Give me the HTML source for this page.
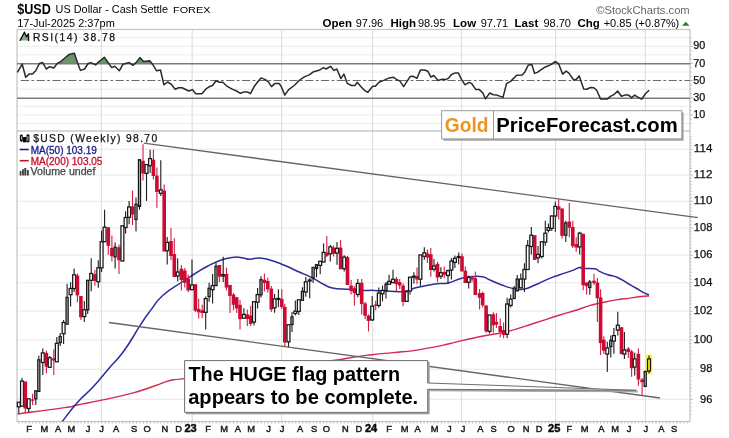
<!DOCTYPE html><html><head><meta charset="utf-8"><title>$USD</title>
<style>
html,body{margin:0;padding:0;background:#fff;}
body{width:729px;height:438px;overflow:hidden;position:relative;font-family:"Liberation Sans",sans-serif;}
svg{position:absolute;left:0;top:0;filter:blur(0.42px);}
text{font-family:"Liberation Sans",sans-serif;}
.t{position:absolute;white-space:nowrap;line-height:1;color:#000;}
</style></head><body>
<svg width="729" height="438" viewBox="0 0 729 438">
<rect x="0" y="0" width="729" height="438" fill="#fff"/>
<g stroke="#e7e7e7" stroke-width="1" fill="none">
<line x1="17.0" y1="123.5" x2="690.0" y2="123.5" stroke="#ececec"/>
<line x1="17.0" y1="114.9" x2="690.0" y2="114.9" stroke="#ececec"/>
<line x1="17.0" y1="106.3" x2="690.0" y2="106.3" stroke="#ececec"/>
<line x1="17.0" y1="89.2" x2="690.0" y2="89.2" stroke="#ececec"/>
<line x1="17.0" y1="72.0" x2="690.0" y2="72.0" stroke="#ececec"/>
<line x1="17.0" y1="54.9" x2="690.0" y2="54.9" stroke="#ececec"/>
<line x1="17.0" y1="46.3" x2="690.0" y2="46.3" stroke="#ececec"/>
<line x1="17.0" y1="37.7" x2="690.0" y2="37.7" stroke="#ececec"/>
<line x1="17.0" y1="399.3" x2="690.0" y2="399.3"/>
<line x1="17.0" y1="369.3" x2="690.0" y2="369.3"/>
<line x1="17.0" y1="339.9" x2="690.0" y2="339.9"/>
<line x1="17.0" y1="311.1" x2="690.0" y2="311.1"/>
<line x1="17.0" y1="282.8" x2="690.0" y2="282.8"/>
<line x1="17.0" y1="255.1" x2="690.0" y2="255.1"/>
<line x1="17.0" y1="227.9" x2="690.0" y2="227.9"/>
<line x1="17.0" y1="201.2" x2="690.0" y2="201.2"/>
<line x1="17.0" y1="175.0" x2="690.0" y2="175.0"/>
<line x1="17.0" y1="149.2" x2="690.0" y2="149.2"/>
</g>
<g stroke="#e0e0e0" stroke-width="1.2" fill="none">
<line x1="101.4" y1="29.5" x2="101.4" y2="421.5"/>
<line x1="192.2" y1="29.5" x2="192.2" y2="421.5"/>
<line x1="281.6" y1="29.5" x2="281.6" y2="421.5"/>
<line x1="372.6" y1="29.5" x2="372.6" y2="421.5"/>
<line x1="461.5" y1="29.5" x2="461.5" y2="421.5"/>
<line x1="555.6" y1="29.5" x2="555.6" y2="421.5"/>
<line x1="645.4" y1="29.5" x2="645.4" y2="421.5"/>
</g>
<g stroke="#c4c4c4" stroke-width="1.2" fill="none"><rect x="17.0" y="29.5" width="673.0" height="392.0"/><line x1="17.0" y1="131.0" x2="690.0" y2="131.0" stroke="#b0b0b0"/></g>
<g stroke="#bdbdbd" stroke-width="1">
<line x1="690.0" y1="414.5" x2="691.6" y2="414.5"/>
<line x1="690.0" y1="410.7" x2="691.6" y2="410.7"/>
<line x1="690.0" y1="406.9" x2="691.6" y2="406.9"/>
<line x1="690.0" y1="403.1" x2="691.6" y2="403.1"/>
<line x1="690.0" y1="399.3" x2="693.0" y2="399.3"/>
<line x1="690.0" y1="395.5" x2="691.6" y2="395.5"/>
<line x1="690.0" y1="391.7" x2="691.6" y2="391.7"/>
<line x1="690.0" y1="388.0" x2="691.6" y2="388.0"/>
<line x1="690.0" y1="384.2" x2="691.6" y2="384.2"/>
<line x1="690.0" y1="380.5" x2="691.6" y2="380.5"/>
<line x1="690.0" y1="376.7" x2="691.6" y2="376.7"/>
<line x1="690.0" y1="373.0" x2="691.6" y2="373.0"/>
<line x1="690.0" y1="369.3" x2="693.0" y2="369.3"/>
<line x1="690.0" y1="365.6" x2="691.6" y2="365.6"/>
<line x1="690.0" y1="361.9" x2="691.6" y2="361.9"/>
<line x1="690.0" y1="358.2" x2="691.6" y2="358.2"/>
<line x1="690.0" y1="354.5" x2="691.6" y2="354.5"/>
<line x1="690.0" y1="350.8" x2="691.6" y2="350.8"/>
<line x1="690.0" y1="347.2" x2="691.6" y2="347.2"/>
<line x1="690.0" y1="343.5" x2="691.6" y2="343.5"/>
<line x1="690.0" y1="339.9" x2="693.0" y2="339.9"/>
<line x1="690.0" y1="336.3" x2="691.6" y2="336.3"/>
<line x1="690.0" y1="332.6" x2="691.6" y2="332.6"/>
<line x1="690.0" y1="329.0" x2="691.6" y2="329.0"/>
<line x1="690.0" y1="325.4" x2="691.6" y2="325.4"/>
<line x1="690.0" y1="321.8" x2="691.6" y2="321.8"/>
<line x1="690.0" y1="318.2" x2="691.6" y2="318.2"/>
<line x1="690.0" y1="314.6" x2="691.6" y2="314.6"/>
<line x1="690.0" y1="311.1" x2="693.0" y2="311.1"/>
<line x1="690.0" y1="307.5" x2="691.6" y2="307.5"/>
<line x1="690.0" y1="304.0" x2="691.6" y2="304.0"/>
<line x1="690.0" y1="300.4" x2="691.6" y2="300.4"/>
<line x1="690.0" y1="296.9" x2="691.6" y2="296.9"/>
<line x1="690.0" y1="293.3" x2="691.6" y2="293.3"/>
<line x1="690.0" y1="289.8" x2="691.6" y2="289.8"/>
<line x1="690.0" y1="286.3" x2="691.6" y2="286.3"/>
<line x1="690.0" y1="282.8" x2="693.0" y2="282.8"/>
<line x1="690.0" y1="279.3" x2="691.6" y2="279.3"/>
<line x1="690.0" y1="275.8" x2="691.6" y2="275.8"/>
<line x1="690.0" y1="272.4" x2="691.6" y2="272.4"/>
<line x1="690.0" y1="268.9" x2="691.6" y2="268.9"/>
<line x1="690.0" y1="265.4" x2="691.6" y2="265.4"/>
<line x1="690.0" y1="262.0" x2="691.6" y2="262.0"/>
<line x1="690.0" y1="258.5" x2="691.6" y2="258.5"/>
<line x1="690.0" y1="255.1" x2="693.0" y2="255.1"/>
<line x1="690.0" y1="251.7" x2="691.6" y2="251.7"/>
<line x1="690.0" y1="248.2" x2="691.6" y2="248.2"/>
<line x1="690.0" y1="244.8" x2="691.6" y2="244.8"/>
<line x1="690.0" y1="241.4" x2="691.6" y2="241.4"/>
<line x1="690.0" y1="238.0" x2="691.6" y2="238.0"/>
<line x1="690.0" y1="234.6" x2="691.6" y2="234.6"/>
<line x1="690.0" y1="231.3" x2="691.6" y2="231.3"/>
<line x1="690.0" y1="227.9" x2="693.0" y2="227.9"/>
<line x1="690.0" y1="224.5" x2="691.6" y2="224.5"/>
<line x1="690.0" y1="221.2" x2="691.6" y2="221.2"/>
<line x1="690.0" y1="217.8" x2="691.6" y2="217.8"/>
<line x1="690.0" y1="214.5" x2="691.6" y2="214.5"/>
<line x1="690.0" y1="211.1" x2="691.6" y2="211.1"/>
<line x1="690.0" y1="207.8" x2="691.6" y2="207.8"/>
<line x1="690.0" y1="204.5" x2="691.6" y2="204.5"/>
<line x1="690.0" y1="201.2" x2="693.0" y2="201.2"/>
<line x1="690.0" y1="197.9" x2="691.6" y2="197.9"/>
<line x1="690.0" y1="194.6" x2="691.6" y2="194.6"/>
<line x1="690.0" y1="191.3" x2="691.6" y2="191.3"/>
<line x1="690.0" y1="188.0" x2="691.6" y2="188.0"/>
<line x1="690.0" y1="184.7" x2="691.6" y2="184.7"/>
<line x1="690.0" y1="181.5" x2="691.6" y2="181.5"/>
<line x1="690.0" y1="178.2" x2="691.6" y2="178.2"/>
<line x1="690.0" y1="175.0" x2="693.0" y2="175.0"/>
<line x1="690.0" y1="171.7" x2="691.6" y2="171.7"/>
<line x1="690.0" y1="168.5" x2="691.6" y2="168.5"/>
<line x1="690.0" y1="165.3" x2="691.6" y2="165.3"/>
<line x1="690.0" y1="162.0" x2="691.6" y2="162.0"/>
<line x1="690.0" y1="158.8" x2="691.6" y2="158.8"/>
<line x1="690.0" y1="155.6" x2="691.6" y2="155.6"/>
<line x1="690.0" y1="152.4" x2="691.6" y2="152.4"/>
<line x1="690.0" y1="149.2" x2="693.0" y2="149.2"/>
<line x1="690.0" y1="146.0" x2="691.6" y2="146.0"/>
<line x1="690.0" y1="142.8" x2="691.6" y2="142.8"/>
<line x1="690.0" y1="139.7" x2="691.6" y2="139.7"/>
<line x1="690.0" y1="136.5" x2="691.6" y2="136.5"/>
<line x1="690.0" y1="123.5" x2="691.6" y2="123.5"/>
<line x1="690.0" y1="119.2" x2="691.6" y2="119.2"/>
<line x1="690.0" y1="114.9" x2="693.0" y2="114.9"/>
<line x1="690.0" y1="110.6" x2="691.6" y2="110.6"/>
<line x1="690.0" y1="106.3" x2="691.6" y2="106.3"/>
<line x1="690.0" y1="102.0" x2="691.6" y2="102.0"/>
<line x1="690.0" y1="97.8" x2="693.0" y2="97.8"/>
<line x1="690.0" y1="93.5" x2="691.6" y2="93.5"/>
<line x1="690.0" y1="89.2" x2="691.6" y2="89.2"/>
<line x1="690.0" y1="84.9" x2="691.6" y2="84.9"/>
<line x1="690.0" y1="80.6" x2="693.0" y2="80.6"/>
<line x1="690.0" y1="76.3" x2="691.6" y2="76.3"/>
<line x1="690.0" y1="72.0" x2="691.6" y2="72.0"/>
<line x1="690.0" y1="67.7" x2="691.6" y2="67.7"/>
<line x1="690.0" y1="63.4" x2="693.0" y2="63.4"/>
<line x1="690.0" y1="59.1" x2="691.6" y2="59.1"/>
<line x1="690.0" y1="54.9" x2="691.6" y2="54.9"/>
<line x1="690.0" y1="50.6" x2="691.6" y2="50.6"/>
<line x1="690.0" y1="46.3" x2="693.0" y2="46.3"/>
<line x1="690.0" y1="42.0" x2="691.6" y2="42.0"/>
<line x1="690.0" y1="37.7" x2="691.6" y2="37.7"/>
<line x1="18.8" y1="421.5" x2="18.8" y2="423.5"/>
<line x1="22.3" y1="421.5" x2="22.3" y2="423.5"/>
<line x1="25.7" y1="421.5" x2="25.7" y2="423.5"/>
<line x1="29.2" y1="421.5" x2="29.2" y2="423.5"/>
<line x1="32.7" y1="421.5" x2="32.7" y2="423.5"/>
<line x1="36.1" y1="421.5" x2="36.1" y2="423.5"/>
<line x1="39.6" y1="421.5" x2="39.6" y2="423.5"/>
<line x1="43.0" y1="421.5" x2="43.0" y2="423.5"/>
<line x1="46.5" y1="421.5" x2="46.5" y2="423.5"/>
<line x1="50.0" y1="421.5" x2="50.0" y2="423.5"/>
<line x1="53.4" y1="421.5" x2="53.4" y2="423.5"/>
<line x1="56.9" y1="421.5" x2="56.9" y2="423.5"/>
<line x1="60.4" y1="421.5" x2="60.4" y2="423.5"/>
<line x1="63.8" y1="421.5" x2="63.8" y2="423.5"/>
<line x1="67.3" y1="421.5" x2="67.3" y2="423.5"/>
<line x1="70.7" y1="421.5" x2="70.7" y2="423.5"/>
<line x1="74.2" y1="421.5" x2="74.2" y2="423.5"/>
<line x1="77.7" y1="421.5" x2="77.7" y2="423.5"/>
<line x1="81.1" y1="421.5" x2="81.1" y2="423.5"/>
<line x1="84.6" y1="421.5" x2="84.6" y2="423.5"/>
<line x1="88.1" y1="421.5" x2="88.1" y2="423.5"/>
<line x1="91.5" y1="421.5" x2="91.5" y2="423.5"/>
<line x1="95.0" y1="421.5" x2="95.0" y2="423.5"/>
<line x1="98.4" y1="421.5" x2="98.4" y2="423.5"/>
<line x1="101.9" y1="421.5" x2="101.9" y2="423.5"/>
<line x1="105.4" y1="421.5" x2="105.4" y2="423.5"/>
<line x1="108.8" y1="421.5" x2="108.8" y2="423.5"/>
<line x1="112.3" y1="421.5" x2="112.3" y2="423.5"/>
<line x1="115.8" y1="421.5" x2="115.8" y2="423.5"/>
<line x1="119.2" y1="421.5" x2="119.2" y2="423.5"/>
<line x1="122.7" y1="421.5" x2="122.7" y2="423.5"/>
<line x1="126.2" y1="421.5" x2="126.2" y2="423.5"/>
<line x1="129.6" y1="421.5" x2="129.6" y2="423.5"/>
<line x1="133.1" y1="421.5" x2="133.1" y2="423.5"/>
<line x1="136.5" y1="421.5" x2="136.5" y2="423.5"/>
<line x1="140.0" y1="421.5" x2="140.0" y2="423.5"/>
<line x1="143.5" y1="421.5" x2="143.5" y2="423.5"/>
<line x1="146.9" y1="421.5" x2="146.9" y2="423.5"/>
<line x1="150.4" y1="421.5" x2="150.4" y2="423.5"/>
<line x1="153.9" y1="421.5" x2="153.9" y2="423.5"/>
<line x1="157.3" y1="421.5" x2="157.3" y2="423.5"/>
<line x1="160.8" y1="421.5" x2="160.8" y2="423.5"/>
<line x1="164.2" y1="421.5" x2="164.2" y2="423.5"/>
<line x1="167.7" y1="421.5" x2="167.7" y2="423.5"/>
<line x1="171.2" y1="421.5" x2="171.2" y2="423.5"/>
<line x1="174.6" y1="421.5" x2="174.6" y2="423.5"/>
<line x1="178.1" y1="421.5" x2="178.1" y2="423.5"/>
<line x1="181.6" y1="421.5" x2="181.6" y2="423.5"/>
<line x1="185.0" y1="421.5" x2="185.0" y2="423.5"/>
<line x1="188.5" y1="421.5" x2="188.5" y2="423.5"/>
<line x1="191.9" y1="421.5" x2="191.9" y2="423.5"/>
<line x1="195.4" y1="421.5" x2="195.4" y2="423.5"/>
<line x1="198.9" y1="421.5" x2="198.9" y2="423.5"/>
<line x1="202.3" y1="421.5" x2="202.3" y2="423.5"/>
<line x1="205.8" y1="421.5" x2="205.8" y2="423.5"/>
<line x1="209.3" y1="421.5" x2="209.3" y2="423.5"/>
<line x1="212.7" y1="421.5" x2="212.7" y2="423.5"/>
<line x1="216.2" y1="421.5" x2="216.2" y2="423.5"/>
<line x1="219.7" y1="421.5" x2="219.7" y2="423.5"/>
<line x1="223.1" y1="421.5" x2="223.1" y2="423.5"/>
<line x1="226.6" y1="421.5" x2="226.6" y2="423.5"/>
<line x1="230.0" y1="421.5" x2="230.0" y2="423.5"/>
<line x1="233.5" y1="421.5" x2="233.5" y2="423.5"/>
<line x1="237.0" y1="421.5" x2="237.0" y2="423.5"/>
<line x1="240.4" y1="421.5" x2="240.4" y2="423.5"/>
<line x1="243.9" y1="421.5" x2="243.9" y2="423.5"/>
<line x1="247.4" y1="421.5" x2="247.4" y2="423.5"/>
<line x1="250.8" y1="421.5" x2="250.8" y2="423.5"/>
<line x1="254.3" y1="421.5" x2="254.3" y2="423.5"/>
<line x1="257.7" y1="421.5" x2="257.7" y2="423.5"/>
<line x1="261.2" y1="421.5" x2="261.2" y2="423.5"/>
<line x1="264.7" y1="421.5" x2="264.7" y2="423.5"/>
<line x1="268.1" y1="421.5" x2="268.1" y2="423.5"/>
<line x1="271.6" y1="421.5" x2="271.6" y2="423.5"/>
<line x1="275.1" y1="421.5" x2="275.1" y2="423.5"/>
<line x1="278.5" y1="421.5" x2="278.5" y2="423.5"/>
<line x1="282.0" y1="421.5" x2="282.0" y2="423.5"/>
<line x1="285.5" y1="421.5" x2="285.5" y2="423.5"/>
<line x1="288.9" y1="421.5" x2="288.9" y2="423.5"/>
<line x1="292.4" y1="421.5" x2="292.4" y2="423.5"/>
<line x1="295.8" y1="421.5" x2="295.8" y2="423.5"/>
<line x1="299.3" y1="421.5" x2="299.3" y2="423.5"/>
<line x1="302.8" y1="421.5" x2="302.8" y2="423.5"/>
<line x1="306.2" y1="421.5" x2="306.2" y2="423.5"/>
<line x1="309.7" y1="421.5" x2="309.7" y2="423.5"/>
<line x1="313.2" y1="421.5" x2="313.2" y2="423.5"/>
<line x1="316.6" y1="421.5" x2="316.6" y2="423.5"/>
<line x1="320.1" y1="421.5" x2="320.1" y2="423.5"/>
<line x1="323.5" y1="421.5" x2="323.5" y2="423.5"/>
<line x1="327.0" y1="421.5" x2="327.0" y2="423.5"/>
<line x1="330.5" y1="421.5" x2="330.5" y2="423.5"/>
<line x1="333.9" y1="421.5" x2="333.9" y2="423.5"/>
<line x1="337.4" y1="421.5" x2="337.4" y2="423.5"/>
<line x1="340.9" y1="421.5" x2="340.9" y2="423.5"/>
<line x1="344.3" y1="421.5" x2="344.3" y2="423.5"/>
<line x1="347.8" y1="421.5" x2="347.8" y2="423.5"/>
<line x1="351.2" y1="421.5" x2="351.2" y2="423.5"/>
<line x1="354.7" y1="421.5" x2="354.7" y2="423.5"/>
<line x1="358.2" y1="421.5" x2="358.2" y2="423.5"/>
<line x1="361.6" y1="421.5" x2="361.6" y2="423.5"/>
<line x1="365.1" y1="421.5" x2="365.1" y2="423.5"/>
<line x1="368.6" y1="421.5" x2="368.6" y2="423.5"/>
<line x1="372.0" y1="421.5" x2="372.0" y2="423.5"/>
<line x1="375.5" y1="421.5" x2="375.5" y2="423.5"/>
<line x1="379.0" y1="421.5" x2="379.0" y2="423.5"/>
<line x1="382.4" y1="421.5" x2="382.4" y2="423.5"/>
<line x1="385.9" y1="421.5" x2="385.9" y2="423.5"/>
<line x1="389.3" y1="421.5" x2="389.3" y2="423.5"/>
<line x1="392.8" y1="421.5" x2="392.8" y2="423.5"/>
<line x1="396.3" y1="421.5" x2="396.3" y2="423.5"/>
<line x1="399.7" y1="421.5" x2="399.7" y2="423.5"/>
<line x1="403.2" y1="421.5" x2="403.2" y2="423.5"/>
<line x1="406.7" y1="421.5" x2="406.7" y2="423.5"/>
<line x1="410.1" y1="421.5" x2="410.1" y2="423.5"/>
<line x1="413.6" y1="421.5" x2="413.6" y2="423.5"/>
<line x1="417.0" y1="421.5" x2="417.0" y2="423.5"/>
<line x1="420.5" y1="421.5" x2="420.5" y2="423.5"/>
<line x1="424.0" y1="421.5" x2="424.0" y2="423.5"/>
<line x1="427.4" y1="421.5" x2="427.4" y2="423.5"/>
<line x1="430.9" y1="421.5" x2="430.9" y2="423.5"/>
<line x1="434.4" y1="421.5" x2="434.4" y2="423.5"/>
<line x1="437.8" y1="421.5" x2="437.8" y2="423.5"/>
<line x1="441.3" y1="421.5" x2="441.3" y2="423.5"/>
<line x1="444.7" y1="421.5" x2="444.7" y2="423.5"/>
<line x1="448.2" y1="421.5" x2="448.2" y2="423.5"/>
<line x1="451.7" y1="421.5" x2="451.7" y2="423.5"/>
<line x1="455.1" y1="421.5" x2="455.1" y2="423.5"/>
<line x1="458.6" y1="421.5" x2="458.6" y2="423.5"/>
<line x1="462.1" y1="421.5" x2="462.1" y2="423.5"/>
<line x1="465.5" y1="421.5" x2="465.5" y2="423.5"/>
<line x1="469.0" y1="421.5" x2="469.0" y2="423.5"/>
<line x1="472.5" y1="421.5" x2="472.5" y2="423.5"/>
<line x1="475.9" y1="421.5" x2="475.9" y2="423.5"/>
<line x1="479.4" y1="421.5" x2="479.4" y2="423.5"/>
<line x1="482.8" y1="421.5" x2="482.8" y2="423.5"/>
<line x1="486.3" y1="421.5" x2="486.3" y2="423.5"/>
<line x1="489.8" y1="421.5" x2="489.8" y2="423.5"/>
<line x1="493.2" y1="421.5" x2="493.2" y2="423.5"/>
<line x1="496.7" y1="421.5" x2="496.7" y2="423.5"/>
<line x1="500.2" y1="421.5" x2="500.2" y2="423.5"/>
<line x1="503.6" y1="421.5" x2="503.6" y2="423.5"/>
<line x1="507.1" y1="421.5" x2="507.1" y2="423.5"/>
<line x1="510.5" y1="421.5" x2="510.5" y2="423.5"/>
<line x1="514.0" y1="421.5" x2="514.0" y2="423.5"/>
<line x1="517.5" y1="421.5" x2="517.5" y2="423.5"/>
<line x1="520.9" y1="421.5" x2="520.9" y2="423.5"/>
<line x1="524.4" y1="421.5" x2="524.4" y2="423.5"/>
<line x1="527.9" y1="421.5" x2="527.9" y2="423.5"/>
<line x1="531.3" y1="421.5" x2="531.3" y2="423.5"/>
<line x1="534.8" y1="421.5" x2="534.8" y2="423.5"/>
<line x1="538.3" y1="421.5" x2="538.3" y2="423.5"/>
<line x1="541.7" y1="421.5" x2="541.7" y2="423.5"/>
<line x1="545.2" y1="421.5" x2="545.2" y2="423.5"/>
<line x1="548.6" y1="421.5" x2="548.6" y2="423.5"/>
<line x1="552.1" y1="421.5" x2="552.1" y2="423.5"/>
<line x1="555.6" y1="421.5" x2="555.6" y2="423.5"/>
<line x1="559.0" y1="421.5" x2="559.0" y2="423.5"/>
<line x1="562.5" y1="421.5" x2="562.5" y2="423.5"/>
<line x1="566.0" y1="421.5" x2="566.0" y2="423.5"/>
<line x1="569.4" y1="421.5" x2="569.4" y2="423.5"/>
<line x1="572.9" y1="421.5" x2="572.9" y2="423.5"/>
<line x1="576.3" y1="421.5" x2="576.3" y2="423.5"/>
<line x1="579.8" y1="421.5" x2="579.8" y2="423.5"/>
<line x1="583.3" y1="421.5" x2="583.3" y2="423.5"/>
<line x1="586.7" y1="421.5" x2="586.7" y2="423.5"/>
<line x1="590.2" y1="421.5" x2="590.2" y2="423.5"/>
<line x1="593.7" y1="421.5" x2="593.7" y2="423.5"/>
<line x1="597.1" y1="421.5" x2="597.1" y2="423.5"/>
<line x1="600.6" y1="421.5" x2="600.6" y2="423.5"/>
<line x1="604.0" y1="421.5" x2="604.0" y2="423.5"/>
<line x1="607.5" y1="421.5" x2="607.5" y2="423.5"/>
<line x1="611.0" y1="421.5" x2="611.0" y2="423.5"/>
<line x1="614.4" y1="421.5" x2="614.4" y2="423.5"/>
<line x1="617.9" y1="421.5" x2="617.9" y2="423.5"/>
<line x1="621.4" y1="421.5" x2="621.4" y2="423.5"/>
<line x1="624.8" y1="421.5" x2="624.8" y2="423.5"/>
<line x1="628.3" y1="421.5" x2="628.3" y2="423.5"/>
<line x1="631.8" y1="421.5" x2="631.8" y2="423.5"/>
<line x1="635.2" y1="421.5" x2="635.2" y2="423.5"/>
<line x1="638.7" y1="421.5" x2="638.7" y2="423.5"/>
<line x1="642.1" y1="421.5" x2="642.1" y2="423.5"/>
<line x1="645.6" y1="421.5" x2="645.6" y2="423.5"/>
<line x1="649.1" y1="421.5" x2="649.1" y2="423.5"/>
<line x1="652.5" y1="421.5" x2="652.5" y2="423.5"/>
<line x1="656.0" y1="421.5" x2="656.0" y2="423.5"/>
<line x1="659.5" y1="421.5" x2="659.5" y2="423.5"/>
<line x1="662.9" y1="421.5" x2="662.9" y2="423.5"/>
<line x1="666.4" y1="421.5" x2="666.4" y2="423.5"/>
<line x1="669.8" y1="421.5" x2="669.8" y2="423.5"/>
<line x1="673.3" y1="421.5" x2="673.3" y2="423.5"/>
<line x1="676.8" y1="421.5" x2="676.8" y2="423.5"/>
<line x1="680.2" y1="421.5" x2="680.2" y2="423.5"/>
<line x1="683.7" y1="421.5" x2="683.7" y2="423.5"/>
<line x1="687.2" y1="421.5" x2="687.2" y2="423.5"/>
</g>
<polygon fill="#6d936d" stroke="none" points="39.2,63.8 39.4,63.5 42.8,62.6 43.4,63.8"/>
<polygon fill="#6d936d" stroke="none" points="57.0,63.8 57.2,63.5 60.6,61.7 64.8,58.0 68.9,54.6 74.4,53.2 77.8,63.5 77.9,63.8"/>
<polygon fill="#6d936d" stroke="none" points="87.9,63.8 88.1,63.5 90.8,62.6 93.3,63.8"/>
<polygon fill="#6d936d" stroke="none" points="96.7,63.8 99.0,61.5 104.3,57.3 108.7,63.5 108.9,63.8"/>
<polygon fill="#6d936d" stroke="none" points="124.6,63.8 129.2,62.6 130.9,63.8"/>
<polygon fill="#6d936d" stroke="none" points="134.7,63.8 136.0,62.6 139.9,57.6 143.6,61.5 149.8,60.8 152.2,63.8"/>
<polygon fill="#6d936d" stroke="none" points="552.1,63.8 555.6,61.5 558.6,63.8"/>
<line x1="17.0" y1="63.8" x2="690.0" y2="63.8" stroke="#7c7c7c" stroke-width="1.6"/>
<line x1="17.0" y1="98.2" x2="690.0" y2="98.2" stroke="#7c7c7c" stroke-width="1.6"/>
<line x1="20.8" y1="80.5" x2="690.0" y2="80.5" stroke="#6a6a6a" stroke-width="1" stroke-dasharray="8.2 2.4 2.8 2.4"/>
<polyline fill="none" stroke="#2a2a2a" stroke-width="1.5" stroke-linejoin="round" points="17.4,72.4 22.2,64.2 25.7,77.2 29.1,74.1 32.5,74.1 35.9,70.4 39.4,63.5 42.8,62.6 46.2,69.0 49.7,66.7 53.8,68.0 57.2,63.5 60.6,61.7 64.8,58.0 68.9,54.6 74.4,53.2 77.8,63.5 80.5,70.4 84.6,69.0 88.1,63.5 90.8,62.6 95.6,64.9 99.0,61.5 104.3,57.3 108.7,63.5 111.7,67.6 114.8,66.3 119.3,70.8 123.0,64.2 129.2,62.6 133.0,65.3 136.0,62.6 139.9,57.6 143.6,61.5 149.8,60.8 152.5,64.2 156.6,70.8 160.5,70.0 163.9,84.8 167.6,82.0 171.0,84.1 175.2,89.2 178.6,87.8 182.0,87.8 188.9,91.0 192.3,89.6 195.7,93.7 201.9,93.7 206.0,88.9 209.1,86.8 212.5,85.5 216.0,80.7 219.4,82.3 222.8,82.3 226.9,86.2 231.7,88.9 236.6,91.0 240.4,93.3 244.1,91.9 247.5,91.9 250.5,93.7 254.4,86.2 257.8,81.8 261.0,77.9 265.4,79.6 268.4,81.8 271.5,86.6 275.0,83.4 279.1,83.4 281.1,86.2 284.8,95.1 288.7,89.6 294.2,85.5 299.7,80.0 304.8,76.6 309.3,74.9 313.7,71.7 319.9,70.0 323.3,67.6 326.1,69.0 330.5,66.3 334.0,70.4 336.8,69.0 340.9,78.6 343.9,74.1 347.3,83.4 351.4,85.5 354.9,85.5 357.3,82.3 361.0,86.8 364.5,90.3 367.9,92.3 372.7,86.2 375.4,86.2 378.9,82.3 383.7,80.4 389.2,77.9 393.3,77.2 397.4,80.0 399.8,80.9 403.6,86.6 410.1,76.6 413.5,76.3 416.9,78.3 420.4,70.1 424.5,70.0 427.9,71.3 430.9,77.2 433.7,75.5 438.2,80.4 442.3,79.3 445.8,79.6 448.5,78.2 451.5,74.5 454.7,73.1 458.4,73.1 461.5,79.3 465.0,84.8 469.1,82.3 471.8,83.7 475.9,89.6 479.4,89.6 482.8,93.0 485.5,98.9 489.7,93.0 493.4,94.7 496.9,95.1 503.0,97.4 506.5,83.7 510.6,81.4 516.7,75.2 522.2,74.9 525.0,71.7 528.4,64.9 531.8,64.5 534.6,73.4 537.3,72.4 544.9,67.2 550.4,64.9 555.6,61.5 558.6,63.8 562.7,74.1 566.1,71.1 568.9,73.1 573.7,80.0 576.4,79.3 579.2,75.9 583.7,88.9 586.7,89.2 590.5,87.5 593.9,87.8 596.7,90.3 600.5,98.9 607.6,98.9 610.4,96.4 613.8,94.7 617.6,91.0 621.4,96.2 624.8,95.1 628.6,95.1 631.6,97.8 634.7,95.1 637.8,97.1 641.5,99.2 645.4,93.7 649.2,90.3"/>
<clipPath id="cm"><rect x="17.0" y="131.0" width="673.0" height="290.5"/></clipPath>
<g clip-path="url(#cm)">
<path fill="none" stroke="#d42a50" stroke-width="1.45" stroke-linejoin="round" d="M17.5 414.0 C30.0 412.3 48.5 410.0 64.5 407.6 C80.5 405.2 67.1 407.1 77.4 405.0 C87.7 402.9 87.9 403.2 103.0 399.9 C118.1 396.6 120.1 396.4 134.0 392.6 C147.9 388.8 145.4 388.9 155.0 385.7 C164.6 382.5 162.3 382.4 170.0 380.5 C177.7 378.6 165.3 381.0 184.0 378.6 C202.7 376.2 209.1 375.4 240.0 371.5 C270.9 367.6 275.1 366.9 300.0 364.0 C324.9 361.1 318.3 362.4 333.2 360.5 C348.1 358.6 345.5 358.2 355.9 356.7 C366.3 355.2 362.4 355.8 372.3 354.7 C382.2 353.6 381.9 353.7 392.9 352.6 C403.9 351.5 404.2 351.8 413.5 350.6 C422.8 349.4 420.2 349.5 427.9 348.1 C435.6 346.7 434.6 347.1 442.3 345.4 C450.0 343.7 448.0 343.9 456.7 341.9 C465.4 339.9 466.1 339.7 475.0 337.8 C483.9 335.9 481.2 336.5 490.0 334.8 C498.8 333.1 496.0 334.5 508.0 331.4 C520.0 328.3 521.1 327.4 535.0 323.0 C548.9 318.6 549.3 318.3 560.0 315.0 C570.7 311.7 567.3 312.9 575.0 310.5 C582.7 308.1 581.4 308.0 588.7 305.9 C596.0 303.8 595.1 304.2 602.4 302.6 C609.7 301.0 608.9 301.1 616.2 299.9 C623.5 298.7 622.6 299.1 629.9 298.1 C637.2 297.1 638.5 296.9 643.6 296.3 C648.7 295.7 647.6 296.1 649.0 296.0"/>
<path fill="none" stroke="#2c2c9c" stroke-width="1.5" stroke-linejoin="round" d="M62.0 421.8 C66.1 416.6 69.1 411.7 77.4 402.4 C85.7 393.1 84.7 395.9 93.0 387.0 C101.3 378.1 100.1 378.6 108.4 368.9 C116.7 359.2 115.4 362.6 124.0 350.8 C132.6 339.0 133.5 335.5 140.6 324.7 C147.7 313.9 144.6 318.2 150.6 310.4 C156.6 302.6 154.6 302.9 163.0 295.3 C171.4 287.7 173.6 287.7 182.0 282.0 C190.4 276.3 187.8 278.1 194.5 274.0 C201.2 269.9 199.7 270.3 207.0 266.5 C214.3 262.7 214.6 262.2 222.0 259.7 C229.4 257.2 229.1 257.7 234.7 257.2 C240.3 256.7 238.9 257.5 243.0 258.0 C247.1 258.5 245.6 259.2 250.0 259.2 C254.4 259.2 254.1 257.7 259.6 258.0 C265.1 258.3 264.0 258.3 270.6 260.2 C277.2 262.1 277.0 262.3 284.3 265.3 C291.6 268.3 290.7 268.2 298.0 271.5 C305.3 274.8 304.8 274.1 311.7 277.6 C318.6 281.1 318.5 281.8 324.0 284.5 C329.5 287.2 325.4 286.6 332.3 287.9 C339.2 289.2 341.5 288.6 350.0 289.3 C358.5 290.0 357.5 290.2 364.0 290.5 C370.5 290.8 366.1 290.1 374.3 290.4 C382.5 290.7 386.5 291.3 394.9 291.5 C403.3 291.7 400.0 292.0 405.8 291.0 C411.6 290.0 410.6 289.2 416.8 287.6 C423.0 286.0 423.0 286.0 429.2 284.9 C435.4 283.8 435.0 284.0 440.0 283.5 C445.0 283.0 442.2 284.4 448.0 283.0 C453.8 281.6 455.5 279.9 461.7 278.2 C467.9 276.5 465.8 277.2 471.3 276.8 C476.8 276.4 477.2 275.9 482.3 276.8 C487.4 277.7 485.5 278.2 490.5 280.3 C495.5 282.4 494.7 282.5 501.2 284.8 C507.7 287.1 508.7 287.8 514.9 288.9 C521.1 290.0 519.3 289.9 524.5 288.9 C529.7 287.9 528.0 287.9 534.3 285.3 C540.6 282.7 541.4 281.8 548.0 279.1 C554.6 276.4 552.8 277.2 559.0 275.0 C565.2 272.8 565.8 272.9 571.3 270.9 C576.8 268.9 576.7 268.1 579.6 267.4 C582.5 266.7 578.3 268.0 582.3 268.4 C586.3 268.8 590.0 267.9 594.7 268.8 C599.4 269.7 596.5 270.0 600.0 271.6 C603.5 273.2 603.2 273.2 607.9 274.8 C612.6 276.4 612.4 275.3 617.5 277.5 C622.6 279.7 622.0 280.1 627.1 283.0 C632.2 285.9 632.3 285.9 636.7 288.5 C641.1 291.1 640.3 290.9 643.6 292.6 C646.9 294.3 647.6 294.4 649.0 295.0"/>
</g>
<rect x="646.1" y="354.5" width="6.2" height="19.8" fill="#fcf63c"/>
<line x1="18.8" y1="402" x2="18.8" y2="402.2" stroke="#1a1a1a" stroke-width="1.1"/>
<line x1="18.8" y1="406.8" x2="18.8" y2="413" stroke="#1a1a1a" stroke-width="1.1"/>
<rect x="17.35" y="402.2" width="2.9" height="4.6" fill="#fff" stroke="#161616" stroke-width="1.25"/>
<line x1="22" y1="378" x2="22" y2="381.1" stroke="#1a1a1a" stroke-width="1.1"/>
<line x1="22" y1="406.2" x2="22" y2="406.2" stroke="#1a1a1a" stroke-width="1.1"/>
<rect x="20.55" y="381.1" width="2.9" height="25.1" fill="#fff" stroke="#161616" stroke-width="1.25"/>
<line x1="25.3" y1="381.5" x2="25.3" y2="413" stroke="#d21d45" stroke-width="1.1"/>
<rect x="23.5" y="381.5" width="3.6" height="27.0" fill="#cc0a33"/>
<line x1="28.7" y1="398.8" x2="28.7" y2="398.8" stroke="#1a1a1a" stroke-width="1.1"/>
<line x1="28.7" y1="408.5" x2="28.7" y2="411.9" stroke="#1a1a1a" stroke-width="1.1"/>
<rect x="27.25" y="398.8" width="2.9" height="9.7" fill="#fff" stroke="#161616" stroke-width="1.25"/>
<line x1="32.6" y1="393.7" x2="32.6" y2="405" stroke="#d21d45" stroke-width="1.1"/>
<rect x="30.8" y="399.5" width="3.6" height="1.2" fill="#cc0a33"/>
<line x1="35.8" y1="390.8" x2="35.8" y2="390.8" stroke="#1a1a1a" stroke-width="1.1"/>
<line x1="35.8" y1="398.8" x2="35.8" y2="405" stroke="#1a1a1a" stroke-width="1.1"/>
<rect x="34.75" y="390.8" width="2.1" height="8.0" fill="#c4c4c4" stroke="#161616" stroke-width="1.25"/>
<line x1="38.8" y1="355.7" x2="38.8" y2="359.8" stroke="#1a1a1a" stroke-width="1.1"/>
<line x1="38.8" y1="391.4" x2="38.8" y2="391.4" stroke="#1a1a1a" stroke-width="1.1"/>
<rect x="37.75" y="359.8" width="2.1" height="31.6" fill="#c4c4c4" stroke="#161616" stroke-width="1.25"/>
<line x1="42.8" y1="348.5" x2="42.8" y2="352.9" stroke="#1a1a1a" stroke-width="1.1"/>
<line x1="42.8" y1="362.5" x2="42.8" y2="374.9" stroke="#1a1a1a" stroke-width="1.1"/>
<rect x="41.35" y="352.9" width="2.9" height="9.6" fill="#fff" stroke="#161616" stroke-width="1.25"/>
<line x1="46.4" y1="350.5" x2="46.4" y2="373.5" stroke="#d21d45" stroke-width="1.1"/>
<rect x="44.6" y="352.9" width="3.6" height="13.7" fill="#cc0a33"/>
<line x1="49.7" y1="356" x2="49.7" y2="357.7" stroke="#1a1a1a" stroke-width="1.1"/>
<line x1="49.7" y1="367.3" x2="49.7" y2="367.3" stroke="#1a1a1a" stroke-width="1.1"/>
<rect x="48.25" y="357.7" width="2.9" height="9.6" fill="#fff" stroke="#161616" stroke-width="1.25"/>
<line x1="53.8" y1="349.5" x2="53.8" y2="374.9" stroke="#d21d45" stroke-width="1.1"/>
<rect x="52.0" y="358.4" width="3.6" height="2.1" fill="#cc0a33"/>
<line x1="56.8" y1="337.1" x2="56.8" y2="343.3" stroke="#1a1a1a" stroke-width="1.1"/>
<line x1="56.8" y1="361.8" x2="56.8" y2="361.8" stroke="#1a1a1a" stroke-width="1.1"/>
<rect x="55.35" y="343.3" width="2.9" height="18.5" fill="#fff" stroke="#161616" stroke-width="1.25"/>
<line x1="60.2" y1="333" x2="60.2" y2="336.5" stroke="#1a1a1a" stroke-width="1.1"/>
<line x1="60.2" y1="342.6" x2="60.2" y2="346" stroke="#1a1a1a" stroke-width="1.1"/>
<rect x="59.15" y="336.5" width="2.1" height="6.1" fill="#c4c4c4" stroke="#161616" stroke-width="1.25"/>
<line x1="63.6" y1="320" x2="63.6" y2="322.5" stroke="#1a1a1a" stroke-width="1.1"/>
<line x1="63.6" y1="333.7" x2="63.6" y2="344" stroke="#1a1a1a" stroke-width="1.1"/>
<rect x="62.15" y="322.5" width="2.9" height="11.2" fill="#fff" stroke="#161616" stroke-width="1.25"/>
<line x1="67.1" y1="283.7" x2="67.1" y2="297.4" stroke="#1a1a1a" stroke-width="1.1"/>
<line x1="67.1" y1="324.2" x2="67.1" y2="324.2" stroke="#1a1a1a" stroke-width="1.1"/>
<rect x="66.05" y="297.4" width="2.1" height="26.8" fill="#c4c4c4" stroke="#161616" stroke-width="1.25"/>
<line x1="70.6" y1="282.3" x2="70.6" y2="288.5" stroke="#1a1a1a" stroke-width="1.1"/>
<line x1="70.6" y1="294.7" x2="70.6" y2="306.4" stroke="#1a1a1a" stroke-width="1.1"/>
<rect x="69.15" y="288.5" width="2.9" height="6.2" fill="#fff" stroke="#161616" stroke-width="1.25"/>
<line x1="74.1" y1="268.5" x2="74.1" y2="274.8" stroke="#1a1a1a" stroke-width="1.1"/>
<line x1="74.1" y1="288.5" x2="74.1" y2="292" stroke="#1a1a1a" stroke-width="1.1"/>
<rect x="72.65" y="274.8" width="2.9" height="13.7" fill="#fff" stroke="#161616" stroke-width="1.25"/>
<line x1="77.4" y1="273.4" x2="77.4" y2="302.2" stroke="#d21d45" stroke-width="1.1"/>
<rect x="75.6" y="275.5" width="3.6" height="19.9" fill="#cc0a33"/>
<line x1="80.9" y1="296" x2="80.9" y2="320" stroke="#d21d45" stroke-width="1.1"/>
<rect x="79.1" y="296" width="3.6" height="21.3" fill="#cc0a33"/>
<line x1="84.3" y1="300.9" x2="84.3" y2="309.8" stroke="#1a1a1a" stroke-width="1.1"/>
<line x1="84.3" y1="316.6" x2="84.3" y2="322.1" stroke="#1a1a1a" stroke-width="1.1"/>
<rect x="82.85" y="309.8" width="2.9" height="6.8" fill="#fff" stroke="#161616" stroke-width="1.25"/>
<line x1="87.7" y1="280.3" x2="87.7" y2="280.3" stroke="#1a1a1a" stroke-width="1.1"/>
<line x1="87.7" y1="309.8" x2="87.7" y2="313.9" stroke="#1a1a1a" stroke-width="1.1"/>
<rect x="86.65" y="280.3" width="2.1" height="29.5" fill="#c4c4c4" stroke="#161616" stroke-width="1.25"/>
<line x1="91.2" y1="258.2" x2="91.2" y2="273.5" stroke="#1a1a1a" stroke-width="1.1"/>
<line x1="91.2" y1="280.3" x2="91.2" y2="291.3" stroke="#1a1a1a" stroke-width="1.1"/>
<rect x="89.75" y="273.5" width="2.9" height="6.8" fill="#fff" stroke="#161616" stroke-width="1.25"/>
<line x1="94.9" y1="269.9" x2="94.9" y2="285.8" stroke="#d21d45" stroke-width="1.1"/>
<rect x="93.1" y="274.1" width="3.6" height="6.9" fill="#cc0a33"/>
<line x1="98.3" y1="260.3" x2="98.3" y2="267.8" stroke="#1a1a1a" stroke-width="1.1"/>
<line x1="98.3" y1="281.7" x2="98.3" y2="287.8" stroke="#1a1a1a" stroke-width="1.1"/>
<rect x="96.85" y="267.8" width="2.9" height="13.9" fill="#fff" stroke="#161616" stroke-width="1.25"/>
<line x1="101.6" y1="230.8" x2="101.6" y2="241.7" stroke="#1a1a1a" stroke-width="1.1"/>
<line x1="101.6" y1="267.8" x2="101.6" y2="272" stroke="#1a1a1a" stroke-width="1.1"/>
<rect x="100.15" y="241.7" width="2.9" height="26.1" fill="#fff" stroke="#161616" stroke-width="1.25"/>
<line x1="104.6" y1="209.8" x2="104.6" y2="227.2" stroke="#1a1a1a" stroke-width="1.1"/>
<line x1="104.6" y1="241.7" x2="104.6" y2="241.7" stroke="#1a1a1a" stroke-width="1.1"/>
<rect x="103.15" y="227.2" width="2.9" height="14.5" fill="#fff" stroke="#161616" stroke-width="1.25"/>
<line x1="108.3" y1="227.3" x2="108.3" y2="254.8" stroke="#d21d45" stroke-width="1.1"/>
<rect x="106.5" y="227.3" width="3.6" height="18.6" fill="#cc0a33"/>
<line x1="111.9" y1="235.6" x2="111.9" y2="261.6" stroke="#d21d45" stroke-width="1.1"/>
<rect x="110.1" y="247.9" width="3.6" height="8.3" fill="#cc0a33"/>
<line x1="115.1" y1="242.4" x2="115.1" y2="247.2" stroke="#1a1a1a" stroke-width="1.1"/>
<line x1="115.1" y1="256.8" x2="115.1" y2="268.5" stroke="#1a1a1a" stroke-width="1.1"/>
<rect x="114.05" y="247.2" width="2.1" height="9.6" fill="#c4c4c4" stroke="#161616" stroke-width="1.25"/>
<line x1="119" y1="244.5" x2="119" y2="274" stroke="#d21d45" stroke-width="1.1"/>
<rect x="117.2" y="247.2" width="3.6" height="13.1" fill="#cc0a33"/>
<line x1="122.4" y1="225.6" x2="122.4" y2="225.8" stroke="#1a1a1a" stroke-width="1.1"/>
<line x1="122.4" y1="261" x2="122.4" y2="261" stroke="#1a1a1a" stroke-width="1.1"/>
<rect x="120.95" y="225.8" width="2.9" height="35.2" fill="#fff" stroke="#161616" stroke-width="1.25"/>
<line x1="125.6" y1="211.2" x2="125.6" y2="217.5" stroke="#1a1a1a" stroke-width="1.1"/>
<line x1="125.6" y1="227.5" x2="125.6" y2="233.5" stroke="#1a1a1a" stroke-width="1.1"/>
<rect x="124.15" y="217.5" width="2.9" height="10.0" fill="#fff" stroke="#161616" stroke-width="1.25"/>
<line x1="129.1" y1="200.9" x2="129.1" y2="207" stroke="#1a1a1a" stroke-width="1.1"/>
<line x1="129.1" y1="217.3" x2="129.1" y2="224.2" stroke="#1a1a1a" stroke-width="1.1"/>
<rect x="127.65" y="207" width="2.9" height="10.3" fill="#fff" stroke="#161616" stroke-width="1.25"/>
<line x1="132.5" y1="190.6" x2="132.5" y2="225" stroke="#d21d45" stroke-width="1.1"/>
<rect x="130.7" y="206.4" width="3.6" height="8.2" fill="#cc0a33"/>
<line x1="136" y1="197.4" x2="136" y2="204.3" stroke="#1a1a1a" stroke-width="1.1"/>
<line x1="136" y1="219.5" x2="136" y2="231.5" stroke="#1a1a1a" stroke-width="1.1"/>
<rect x="134.95" y="204.3" width="2.1" height="15.2" fill="#c4c4c4" stroke="#161616" stroke-width="1.25"/>
<line x1="139.5" y1="159.7" x2="139.5" y2="159.7" stroke="#1a1a1a" stroke-width="1.1"/>
<line x1="139.5" y1="206.4" x2="139.5" y2="209.8" stroke="#1a1a1a" stroke-width="1.1"/>
<rect x="138.45" y="159.7" width="2.1" height="46.7" fill="#c4c4c4" stroke="#161616" stroke-width="1.25"/>
<line x1="143" y1="144.3" x2="143" y2="180.5" stroke="#d21d45" stroke-width="1.1"/>
<rect x="141.2" y="160.8" width="3.6" height="12.6" fill="#cc0a33"/>
<line x1="146.5" y1="164.6" x2="146.5" y2="164.6" stroke="#1a1a1a" stroke-width="1.1"/>
<line x1="146.5" y1="173.4" x2="146.5" y2="200.9" stroke="#1a1a1a" stroke-width="1.1"/>
<rect x="145.05" y="164.6" width="2.9" height="8.8" fill="#fff" stroke="#161616" stroke-width="1.25"/>
<line x1="150.1" y1="149.8" x2="150.1" y2="158.6" stroke="#1a1a1a" stroke-width="1.1"/>
<line x1="150.1" y1="165.7" x2="150.1" y2="172.9" stroke="#1a1a1a" stroke-width="1.1"/>
<rect x="148.65" y="158.6" width="2.9" height="7.1" fill="#fff" stroke="#161616" stroke-width="1.25"/>
<line x1="153.4" y1="149.8" x2="153.4" y2="179.5" stroke="#d21d45" stroke-width="1.1"/>
<rect x="151.6" y="159.7" width="3.6" height="16.3" fill="#cc0a33"/>
<line x1="156.9" y1="167.4" x2="156.9" y2="207.7" stroke="#d21d45" stroke-width="1.1"/>
<rect x="155.1" y="175.6" width="3.6" height="16.4" fill="#cc0a33"/>
<line x1="160.8" y1="160.2" x2="160.8" y2="189.9" stroke="#1a1a1a" stroke-width="1.1"/>
<line x1="160.8" y1="193.3" x2="160.8" y2="196" stroke="#1a1a1a" stroke-width="1.1"/>
<rect x="159.35" y="189.9" width="2.9" height="3.4" fill="#fff" stroke="#161616" stroke-width="1.25"/>
<line x1="164.2" y1="184.4" x2="164.2" y2="251.4" stroke="#d21d45" stroke-width="1.1"/>
<rect x="162.4" y="190.6" width="3.6" height="60.8" fill="#cc0a33"/>
<line x1="167.2" y1="237" x2="167.2" y2="242.4" stroke="#1a1a1a" stroke-width="1.1"/>
<line x1="167.2" y1="250.7" x2="167.2" y2="264.4" stroke="#1a1a1a" stroke-width="1.1"/>
<rect x="165.75" y="242.4" width="2.9" height="8.3" fill="#fff" stroke="#161616" stroke-width="1.25"/>
<line x1="171" y1="228" x2="171" y2="260.3" stroke="#d21d45" stroke-width="1.1"/>
<rect x="169.2" y="241" width="3.6" height="15.0" fill="#cc0a33"/>
<line x1="174.3" y1="238.3" x2="174.3" y2="277.3" stroke="#d21d45" stroke-width="1.1"/>
<rect x="172.5" y="254" width="3.6" height="23.0" fill="#cc0a33"/>
<line x1="177.7" y1="258.2" x2="177.7" y2="272" stroke="#1a1a1a" stroke-width="1.1"/>
<line x1="177.7" y1="276" x2="177.7" y2="281.5" stroke="#1a1a1a" stroke-width="1.1"/>
<rect x="176.25" y="272" width="2.9" height="4.0" fill="#fff" stroke="#161616" stroke-width="1.25"/>
<line x1="181.4" y1="265" x2="181.4" y2="290.4" stroke="#d21d45" stroke-width="1.1"/>
<rect x="179.6" y="268.7" width="3.6" height="11.3" fill="#cc0a33"/>
<line x1="184.8" y1="268" x2="184.8" y2="287.6" stroke="#d21d45" stroke-width="1.1"/>
<rect x="183.0" y="270.5" width="3.6" height="12.3" fill="#cc0a33"/>
<line x1="188.2" y1="274.6" x2="188.2" y2="292" stroke="#d21d45" stroke-width="1.1"/>
<rect x="186.4" y="278.7" width="3.6" height="11.7" fill="#cc0a33"/>
<line x1="192" y1="259.6" x2="192" y2="284.9" stroke="#1a1a1a" stroke-width="1.1"/>
<line x1="192" y1="289.7" x2="192" y2="289.7" stroke="#1a1a1a" stroke-width="1.1"/>
<rect x="190.55" y="284.9" width="2.9" height="4.8" fill="#fff" stroke="#161616" stroke-width="1.25"/>
<line x1="195.4" y1="284.2" x2="195.4" y2="312" stroke="#d21d45" stroke-width="1.1"/>
<rect x="193.6" y="284.2" width="3.6" height="26.4" fill="#cc0a33"/>
<line x1="198.7" y1="298.6" x2="198.7" y2="318.5" stroke="#d21d45" stroke-width="1.1"/>
<rect x="196.9" y="308.9" width="3.6" height="3.4" fill="#cc0a33"/>
<line x1="202.2" y1="304.8" x2="202.2" y2="318.2" stroke="#d21d45" stroke-width="1.1"/>
<rect x="200.4" y="310.3" width="3.6" height="2.7" fill="#cc0a33"/>
<line x1="205.7" y1="296.6" x2="205.7" y2="298.6" stroke="#1a1a1a" stroke-width="1.1"/>
<line x1="205.7" y1="312.3" x2="205.7" y2="329.5" stroke="#1a1a1a" stroke-width="1.1"/>
<rect x="204.25" y="298.6" width="2.9" height="13.7" fill="#fff" stroke="#161616" stroke-width="1.25"/>
<line x1="209.1" y1="282.8" x2="209.1" y2="288.3" stroke="#1a1a1a" stroke-width="1.1"/>
<line x1="209.1" y1="296.6" x2="209.1" y2="301.7" stroke="#1a1a1a" stroke-width="1.1"/>
<rect x="208.05" y="288.3" width="2.1" height="8.3" fill="#c4c4c4" stroke="#161616" stroke-width="1.25"/>
<line x1="212.6" y1="273.9" x2="212.6" y2="285.6" stroke="#1a1a1a" stroke-width="1.1"/>
<line x1="212.6" y1="289.7" x2="212.6" y2="303.4" stroke="#1a1a1a" stroke-width="1.1"/>
<rect x="211.15" y="285.6" width="2.9" height="4.1" fill="#fff" stroke="#161616" stroke-width="1.25"/>
<line x1="216" y1="263" x2="216" y2="266.4" stroke="#1a1a1a" stroke-width="1.1"/>
<line x1="216" y1="285.6" x2="216" y2="285.6" stroke="#1a1a1a" stroke-width="1.1"/>
<rect x="214.95" y="266.4" width="2.1" height="19.2" fill="#c4c4c4" stroke="#161616" stroke-width="1.25"/>
<line x1="219.4" y1="265" x2="219.4" y2="282.1" stroke="#d21d45" stroke-width="1.1"/>
<rect x="217.6" y="265" width="3.6" height="11.7" fill="#cc0a33"/>
<line x1="223.2" y1="256.8" x2="223.2" y2="274.6" stroke="#1a1a1a" stroke-width="1.1"/>
<line x1="223.2" y1="276" x2="223.2" y2="282.1" stroke="#1a1a1a" stroke-width="1.1"/>
<rect x="221.75" y="274.6" width="2.9" height="1.4" fill="#fff" stroke="#161616" stroke-width="1.25"/>
<line x1="226.5" y1="267.7" x2="226.5" y2="290.4" stroke="#d21d45" stroke-width="1.1"/>
<rect x="224.7" y="273.9" width="3.6" height="13.7" fill="#cc0a33"/>
<line x1="230" y1="284.9" x2="230" y2="313" stroke="#d21d45" stroke-width="1.1"/>
<rect x="228.2" y="284.9" width="3.6" height="11.0" fill="#cc0a33"/>
<line x1="233.5" y1="293" x2="233.5" y2="310.3" stroke="#d21d45" stroke-width="1.1"/>
<rect x="231.7" y="294.5" width="3.6" height="10.3" fill="#cc0a33"/>
<line x1="236.7" y1="297.2" x2="236.7" y2="313" stroke="#d21d45" stroke-width="1.1"/>
<rect x="234.9" y="297.2" width="3.6" height="11.3" fill="#cc0a33"/>
<line x1="240" y1="300" x2="240" y2="329.5" stroke="#d21d45" stroke-width="1.1"/>
<rect x="238.2" y="304.8" width="3.6" height="14.4" fill="#cc0a33"/>
<line x1="243.9" y1="308.2" x2="243.9" y2="314.4" stroke="#1a1a1a" stroke-width="1.1"/>
<line x1="243.9" y1="318.2" x2="243.9" y2="318.2" stroke="#1a1a1a" stroke-width="1.1"/>
<rect x="242.45" y="314.4" width="2.9" height="3.8" fill="#fff" stroke="#161616" stroke-width="1.25"/>
<line x1="247.3" y1="309.6" x2="247.3" y2="326" stroke="#d21d45" stroke-width="1.1"/>
<rect x="245.5" y="314.4" width="3.6" height="4.6" fill="#cc0a33"/>
<line x1="250.7" y1="306.1" x2="250.7" y2="326" stroke="#d21d45" stroke-width="1.1"/>
<rect x="248.9" y="315.5" width="3.6" height="8.5" fill="#cc0a33"/>
<line x1="254" y1="301.4" x2="254" y2="301.7" stroke="#1a1a1a" stroke-width="1.1"/>
<line x1="254" y1="322" x2="254" y2="325.4" stroke="#1a1a1a" stroke-width="1.1"/>
<rect x="252.55" y="301.7" width="2.9" height="20.3" fill="#fff" stroke="#161616" stroke-width="1.25"/>
<line x1="257.6" y1="288" x2="257.6" y2="294.6" stroke="#1a1a1a" stroke-width="1.1"/>
<line x1="257.6" y1="302.2" x2="257.6" y2="308.5" stroke="#1a1a1a" stroke-width="1.1"/>
<rect x="256.15" y="294.6" width="2.9" height="7.6" fill="#fff" stroke="#161616" stroke-width="1.25"/>
<line x1="261" y1="276.3" x2="261" y2="279.7" stroke="#1a1a1a" stroke-width="1.1"/>
<line x1="261" y1="294.8" x2="261" y2="297.5" stroke="#1a1a1a" stroke-width="1.1"/>
<rect x="259.95" y="279.7" width="2.1" height="15.1" fill="#c4c4c4" stroke="#161616" stroke-width="1.25"/>
<line x1="264.4" y1="273.5" x2="264.4" y2="291.4" stroke="#d21d45" stroke-width="1.1"/>
<rect x="262.6" y="279.7" width="3.6" height="3.4" fill="#cc0a33"/>
<line x1="267.8" y1="277.6" x2="267.8" y2="292.7" stroke="#d21d45" stroke-width="1.1"/>
<rect x="266.0" y="281" width="3.6" height="8.3" fill="#cc0a33"/>
<line x1="271.3" y1="285.9" x2="271.3" y2="311.9" stroke="#d21d45" stroke-width="1.1"/>
<rect x="269.5" y="288.6" width="3.6" height="20.9" fill="#cc0a33"/>
<line x1="274.6" y1="294.1" x2="274.6" y2="298.9" stroke="#1a1a1a" stroke-width="1.1"/>
<line x1="274.6" y1="307.8" x2="274.6" y2="312.8" stroke="#1a1a1a" stroke-width="1.1"/>
<rect x="273.15" y="298.9" width="2.9" height="8.9" fill="#fff" stroke="#161616" stroke-width="1.25"/>
<line x1="278.4" y1="289.3" x2="278.4" y2="298.4" stroke="#1a1a1a" stroke-width="1.1"/>
<line x1="278.4" y1="299.4" x2="278.4" y2="307.1" stroke="#1a1a1a" stroke-width="1.1"/>
<rect x="276.95" y="298.4" width="2.9" height="1.0" fill="#fff" stroke="#161616" stroke-width="1.25"/>
<line x1="281.8" y1="289.3" x2="281.8" y2="309" stroke="#d21d45" stroke-width="1.1"/>
<rect x="280.0" y="298.9" width="3.6" height="8.1" fill="#cc0a33"/>
<line x1="284.8" y1="303.7" x2="284.8" y2="346.6" stroke="#d21d45" stroke-width="1.1"/>
<rect x="283.0" y="306.9" width="3.6" height="35.6" fill="#cc0a33"/>
<line x1="288.5" y1="324.7" x2="288.5" y2="324.7" stroke="#1a1a1a" stroke-width="1.1"/>
<line x1="288.5" y1="341.8" x2="288.5" y2="347.3" stroke="#1a1a1a" stroke-width="1.1"/>
<rect x="287.05" y="324.7" width="2.9" height="17.1" fill="#fff" stroke="#161616" stroke-width="1.25"/>
<line x1="292" y1="312.1" x2="292" y2="316.9" stroke="#1a1a1a" stroke-width="1.1"/>
<line x1="292" y1="324.5" x2="292" y2="332" stroke="#1a1a1a" stroke-width="1.1"/>
<rect x="290.95" y="316.9" width="2.1" height="7.6" fill="#c4c4c4" stroke="#161616" stroke-width="1.25"/>
<line x1="295.3" y1="300.5" x2="295.3" y2="311.2" stroke="#1a1a1a" stroke-width="1.1"/>
<line x1="295.3" y1="313.5" x2="295.3" y2="315.5" stroke="#1a1a1a" stroke-width="1.1"/>
<rect x="293.85" y="311.2" width="2.9" height="2.3" fill="#fff" stroke="#161616" stroke-width="1.25"/>
<line x1="298.8" y1="299.8" x2="298.8" y2="299.8" stroke="#1a1a1a" stroke-width="1.1"/>
<line x1="298.8" y1="311.4" x2="298.8" y2="314.9" stroke="#1a1a1a" stroke-width="1.1"/>
<rect x="297.35" y="299.8" width="2.9" height="11.6" fill="#fff" stroke="#161616" stroke-width="1.25"/>
<line x1="302.4" y1="287.2" x2="302.4" y2="291.4" stroke="#1a1a1a" stroke-width="1.1"/>
<line x1="302.4" y1="300.3" x2="302.4" y2="300.3" stroke="#1a1a1a" stroke-width="1.1"/>
<rect x="301.35" y="291.4" width="2.1" height="8.9" fill="#c4c4c4" stroke="#161616" stroke-width="1.25"/>
<line x1="305.8" y1="276.9" x2="305.8" y2="281.8" stroke="#1a1a1a" stroke-width="1.1"/>
<line x1="305.8" y1="292" x2="305.8" y2="296.8" stroke="#1a1a1a" stroke-width="1.1"/>
<rect x="304.35" y="281.8" width="2.9" height="10.2" fill="#fff" stroke="#161616" stroke-width="1.25"/>
<line x1="309.7" y1="278.3" x2="309.7" y2="280" stroke="#1a1a1a" stroke-width="1.1"/>
<line x1="309.7" y1="281" x2="309.7" y2="298.2" stroke="#1a1a1a" stroke-width="1.1"/>
<rect x="308.25" y="280" width="2.9" height="1.0" fill="#fff" stroke="#161616" stroke-width="1.25"/>
<line x1="313.1" y1="267.3" x2="313.1" y2="267.4" stroke="#1a1a1a" stroke-width="1.1"/>
<line x1="313.1" y1="278" x2="313.1" y2="283" stroke="#1a1a1a" stroke-width="1.1"/>
<rect x="312.05" y="267.4" width="2.1" height="10.6" fill="#c4c4c4" stroke="#161616" stroke-width="1.25"/>
<line x1="316.5" y1="264.6" x2="316.5" y2="264.7" stroke="#1a1a1a" stroke-width="1.1"/>
<line x1="316.5" y1="268.5" x2="316.5" y2="277.4" stroke="#1a1a1a" stroke-width="1.1"/>
<rect x="315.45" y="264.7" width="2.1" height="3.8" fill="#c4c4c4" stroke="#161616" stroke-width="1.25"/>
<line x1="320.2" y1="261.2" x2="320.2" y2="261.3" stroke="#1a1a1a" stroke-width="1.1"/>
<line x1="320.2" y1="265.4" x2="320.2" y2="274.3" stroke="#1a1a1a" stroke-width="1.1"/>
<rect x="318.75" y="261.3" width="2.9" height="4.1" fill="#fff" stroke="#161616" stroke-width="1.25"/>
<line x1="323.6" y1="243.5" x2="323.6" y2="252.4" stroke="#1a1a1a" stroke-width="1.1"/>
<line x1="323.6" y1="262" x2="323.6" y2="262" stroke="#1a1a1a" stroke-width="1.1"/>
<rect x="322.15" y="252.4" width="2.9" height="9.6" fill="#fff" stroke="#161616" stroke-width="1.25"/>
<line x1="326.8" y1="236" x2="326.8" y2="257" stroke="#d21d45" stroke-width="1.1"/>
<rect x="325.0" y="252.4" width="3.6" height="3.5" fill="#cc0a33"/>
<line x1="330.3" y1="244.9" x2="330.3" y2="246.9" stroke="#1a1a1a" stroke-width="1.1"/>
<line x1="330.3" y1="253.8" x2="330.3" y2="261.6" stroke="#1a1a1a" stroke-width="1.1"/>
<rect x="328.85" y="246.9" width="2.9" height="6.9" fill="#fff" stroke="#161616" stroke-width="1.25"/>
<line x1="333.6" y1="245.5" x2="333.6" y2="256.6" stroke="#d21d45" stroke-width="1.1"/>
<rect x="331.8" y="247.6" width="3.6" height="6.2" fill="#cc0a33"/>
<line x1="337" y1="242.1" x2="337" y2="248.3" stroke="#1a1a1a" stroke-width="1.1"/>
<line x1="337" y1="253.1" x2="337" y2="264.7" stroke="#1a1a1a" stroke-width="1.1"/>
<rect x="335.55" y="248.3" width="2.9" height="4.8" fill="#fff" stroke="#161616" stroke-width="1.25"/>
<line x1="340.6" y1="240.1" x2="340.6" y2="269.2" stroke="#d21d45" stroke-width="1.1"/>
<rect x="338.8" y="247.6" width="3.6" height="21.6" fill="#cc0a33"/>
<line x1="344.2" y1="255.2" x2="344.2" y2="257.1" stroke="#1a1a1a" stroke-width="1.1"/>
<line x1="344.2" y1="268.7" x2="344.2" y2="271.5" stroke="#1a1a1a" stroke-width="1.1"/>
<rect x="342.75" y="257.1" width="2.9" height="11.6" fill="#fff" stroke="#161616" stroke-width="1.25"/>
<line x1="347.5" y1="255.9" x2="347.5" y2="285" stroke="#d21d45" stroke-width="1.1"/>
<rect x="345.7" y="257.1" width="3.6" height="27.9" fill="#cc0a33"/>
<line x1="351.1" y1="280" x2="351.1" y2="294.5" stroke="#d21d45" stroke-width="1.1"/>
<rect x="349.3" y="285.6" width="3.6" height="5.4" fill="#cc0a33"/>
<line x1="354.4" y1="286" x2="354.4" y2="305.5" stroke="#d21d45" stroke-width="1.1"/>
<rect x="352.6" y="288.3" width="3.6" height="4.8" fill="#cc0a33"/>
<line x1="357.8" y1="278.9" x2="357.8" y2="283.4" stroke="#1a1a1a" stroke-width="1.1"/>
<line x1="357.8" y1="294.5" x2="357.8" y2="297.2" stroke="#1a1a1a" stroke-width="1.1"/>
<rect x="356.35" y="283.4" width="2.9" height="11.1" fill="#fff" stroke="#161616" stroke-width="1.25"/>
<line x1="361.7" y1="278.9" x2="361.7" y2="314.4" stroke="#d21d45" stroke-width="1.1"/>
<rect x="359.9" y="282.8" width="3.6" height="21.3" fill="#cc0a33"/>
<line x1="365.1" y1="302" x2="365.1" y2="319.2" stroke="#d21d45" stroke-width="1.1"/>
<rect x="363.3" y="303.4" width="3.6" height="12.4" fill="#cc0a33"/>
<line x1="368.5" y1="314.4" x2="368.5" y2="331.4" stroke="#d21d45" stroke-width="1.1"/>
<rect x="366.7" y="315.5" width="3.6" height="5.4" fill="#cc0a33"/>
<line x1="372.2" y1="295.9" x2="372.2" y2="306.2" stroke="#1a1a1a" stroke-width="1.1"/>
<line x1="372.2" y1="319.9" x2="372.2" y2="321" stroke="#1a1a1a" stroke-width="1.1"/>
<rect x="370.75" y="306.2" width="2.9" height="13.7" fill="#fff" stroke="#161616" stroke-width="1.25"/>
<line x1="375.7" y1="300.7" x2="375.7" y2="310.3" stroke="#d21d45" stroke-width="1.1"/>
<rect x="373.9" y="304.5" width="3.6" height="1.2" fill="#cc0a33"/>
<line x1="378.8" y1="287.6" x2="378.8" y2="293.1" stroke="#1a1a1a" stroke-width="1.1"/>
<line x1="378.8" y1="305.5" x2="378.8" y2="307.5" stroke="#1a1a1a" stroke-width="1.1"/>
<rect x="377.35" y="293.1" width="2.9" height="12.4" fill="#fff" stroke="#161616" stroke-width="1.25"/>
<line x1="382.5" y1="285.6" x2="382.5" y2="290.4" stroke="#1a1a1a" stroke-width="1.1"/>
<line x1="382.5" y1="293.8" x2="382.5" y2="301.4" stroke="#1a1a1a" stroke-width="1.1"/>
<rect x="381.05" y="290.4" width="2.9" height="3.4" fill="#fff" stroke="#161616" stroke-width="1.25"/>
<line x1="386" y1="282.1" x2="386" y2="284.2" stroke="#1a1a1a" stroke-width="1.1"/>
<line x1="386" y1="290.4" x2="386" y2="298.6" stroke="#1a1a1a" stroke-width="1.1"/>
<rect x="384.95" y="284.2" width="2.1" height="6.2" fill="#c4c4c4" stroke="#161616" stroke-width="1.25"/>
<line x1="389.1" y1="274.8" x2="389.1" y2="281.4" stroke="#1a1a1a" stroke-width="1.1"/>
<line x1="389.1" y1="284.2" x2="389.1" y2="284.2" stroke="#1a1a1a" stroke-width="1.1"/>
<rect x="387.65" y="281.4" width="2.9" height="2.8" fill="#fff" stroke="#161616" stroke-width="1.25"/>
<line x1="393" y1="269.7" x2="393" y2="279.3" stroke="#1a1a1a" stroke-width="1.1"/>
<line x1="393" y1="282.7" x2="393" y2="282.7" stroke="#1a1a1a" stroke-width="1.1"/>
<rect x="391.55" y="279.3" width="2.9" height="3.4" fill="#fff" stroke="#161616" stroke-width="1.25"/>
<line x1="396.4" y1="276.9" x2="396.4" y2="291" stroke="#d21d45" stroke-width="1.1"/>
<rect x="394.6" y="278.9" width="3.6" height="5.3" fill="#cc0a33"/>
<line x1="399.7" y1="278.9" x2="399.7" y2="289" stroke="#d21d45" stroke-width="1.1"/>
<rect x="397.9" y="282.1" width="3.6" height="3.5" fill="#cc0a33"/>
<line x1="403.1" y1="283.5" x2="403.1" y2="306.2" stroke="#d21d45" stroke-width="1.1"/>
<rect x="401.3" y="285.6" width="3.6" height="16.4" fill="#cc0a33"/>
<line x1="406.7" y1="291" x2="406.7" y2="291.7" stroke="#1a1a1a" stroke-width="1.1"/>
<line x1="406.7" y1="301.4" x2="406.7" y2="302" stroke="#1a1a1a" stroke-width="1.1"/>
<rect x="405.25" y="291.7" width="2.9" height="9.7" fill="#fff" stroke="#161616" stroke-width="1.25"/>
<line x1="410" y1="277" x2="410" y2="277.2" stroke="#1a1a1a" stroke-width="1.1"/>
<line x1="410" y1="291" x2="410" y2="294.5" stroke="#1a1a1a" stroke-width="1.1"/>
<rect x="408.55" y="277.2" width="2.9" height="13.8" fill="#fff" stroke="#161616" stroke-width="1.25"/>
<line x1="413.9" y1="272.3" x2="413.9" y2="276.2" stroke="#1a1a1a" stroke-width="1.1"/>
<line x1="413.9" y1="277" x2="413.9" y2="283.6" stroke="#1a1a1a" stroke-width="1.1"/>
<rect x="412.45" y="276.2" width="2.9" height="1.0" fill="#fff" stroke="#161616" stroke-width="1.25"/>
<line x1="417" y1="267.5" x2="417" y2="284.3" stroke="#d21d45" stroke-width="1.1"/>
<rect x="415.2" y="276" width="3.6" height="3.5" fill="#cc0a33"/>
<line x1="420.4" y1="254.9" x2="420.4" y2="254.9" stroke="#1a1a1a" stroke-width="1.1"/>
<line x1="420.4" y1="279.2" x2="420.4" y2="285.7" stroke="#1a1a1a" stroke-width="1.1"/>
<rect x="418.95" y="254.9" width="2.9" height="24.3" fill="#fff" stroke="#161616" stroke-width="1.25"/>
<line x1="424.3" y1="247.3" x2="424.3" y2="252.8" stroke="#1a1a1a" stroke-width="1.1"/>
<line x1="424.3" y1="256.3" x2="424.3" y2="259.7" stroke="#1a1a1a" stroke-width="1.1"/>
<rect x="422.85" y="252.8" width="2.9" height="3.5" fill="#fff" stroke="#161616" stroke-width="1.25"/>
<line x1="427.4" y1="249.4" x2="427.4" y2="263.1" stroke="#d21d45" stroke-width="1.1"/>
<rect x="425.6" y="253.5" width="3.6" height="4.1" fill="#cc0a33"/>
<line x1="430.8" y1="248" x2="430.8" y2="276.8" stroke="#d21d45" stroke-width="1.1"/>
<rect x="429.0" y="254.2" width="3.6" height="15.8" fill="#cc0a33"/>
<line x1="434" y1="259" x2="434" y2="265.9" stroke="#1a1a1a" stroke-width="1.1"/>
<line x1="434" y1="269.2" x2="434" y2="271.4" stroke="#1a1a1a" stroke-width="1.1"/>
<rect x="432.55" y="265.9" width="2.9" height="3.3" fill="#fff" stroke="#161616" stroke-width="1.25"/>
<line x1="437.5" y1="261.7" x2="437.5" y2="282.2" stroke="#d21d45" stroke-width="1.1"/>
<rect x="435.7" y="263.8" width="3.6" height="13.7" fill="#cc0a33"/>
<line x1="440.9" y1="267.2" x2="440.9" y2="272.7" stroke="#1a1a1a" stroke-width="1.1"/>
<line x1="440.9" y1="276.2" x2="440.9" y2="278.9" stroke="#1a1a1a" stroke-width="1.1"/>
<rect x="439.45" y="272.7" width="2.9" height="3.5" fill="#fff" stroke="#161616" stroke-width="1.25"/>
<line x1="444.2" y1="266.6" x2="444.2" y2="278.2" stroke="#d21d45" stroke-width="1.1"/>
<rect x="442.4" y="272" width="3.6" height="2.8" fill="#cc0a33"/>
<line x1="448" y1="269.5" x2="448" y2="270.7" stroke="#1a1a1a" stroke-width="1.1"/>
<line x1="448" y1="275.5" x2="448" y2="283.7" stroke="#1a1a1a" stroke-width="1.1"/>
<rect x="446.55" y="270.7" width="2.9" height="4.8" fill="#fff" stroke="#161616" stroke-width="1.25"/>
<line x1="451.4" y1="258.3" x2="451.4" y2="261.1" stroke="#1a1a1a" stroke-width="1.1"/>
<line x1="451.4" y1="270" x2="451.4" y2="279.6" stroke="#1a1a1a" stroke-width="1.1"/>
<rect x="449.95" y="261.1" width="2.9" height="8.9" fill="#fff" stroke="#161616" stroke-width="1.25"/>
<line x1="454.9" y1="255.6" x2="454.9" y2="258.3" stroke="#1a1a1a" stroke-width="1.1"/>
<line x1="454.9" y1="262.4" x2="454.9" y2="267.9" stroke="#1a1a1a" stroke-width="1.1"/>
<rect x="453.45" y="258.3" width="2.9" height="4.1" fill="#fff" stroke="#161616" stroke-width="1.25"/>
<line x1="458.7" y1="252.6" x2="458.7" y2="256.5" stroke="#1a1a1a" stroke-width="1.1"/>
<line x1="458.7" y1="257.3" x2="458.7" y2="264.5" stroke="#1a1a1a" stroke-width="1.1"/>
<rect x="457.25" y="256.5" width="2.9" height="1.0" fill="#fff" stroke="#161616" stroke-width="1.25"/>
<line x1="462" y1="253.5" x2="462" y2="271.4" stroke="#d21d45" stroke-width="1.1"/>
<rect x="460.2" y="256.3" width="3.6" height="15.1" fill="#cc0a33"/>
<line x1="465.3" y1="266.6" x2="465.3" y2="283" stroke="#d21d45" stroke-width="1.1"/>
<rect x="463.5" y="270.7" width="3.6" height="12.3" fill="#cc0a33"/>
<line x1="468.7" y1="275.5" x2="468.7" y2="277.5" stroke="#1a1a1a" stroke-width="1.1"/>
<line x1="468.7" y1="282.3" x2="468.7" y2="288.4" stroke="#1a1a1a" stroke-width="1.1"/>
<rect x="467.25" y="277.5" width="2.9" height="4.8" fill="#fff" stroke="#161616" stroke-width="1.25"/>
<line x1="472" y1="275.5" x2="472" y2="282.3" stroke="#d21d45" stroke-width="1.1"/>
<rect x="470.2" y="277.5" width="3.6" height="2.1" fill="#cc0a33"/>
<line x1="475.3" y1="271.4" x2="475.3" y2="295.1" stroke="#d21d45" stroke-width="1.1"/>
<rect x="473.5" y="278.2" width="3.6" height="16.9" fill="#cc0a33"/>
<line x1="479.6" y1="288.9" x2="479.6" y2="309.5" stroke="#d21d45" stroke-width="1.1"/>
<rect x="477.8" y="293" width="3.6" height="4.8" fill="#cc0a33"/>
<line x1="482.7" y1="291.6" x2="482.7" y2="307.4" stroke="#d21d45" stroke-width="1.1"/>
<rect x="480.9" y="293" width="3.6" height="12.4" fill="#cc0a33"/>
<line x1="486.1" y1="305.4" x2="486.1" y2="332.8" stroke="#d21d45" stroke-width="1.1"/>
<rect x="484.3" y="305.4" width="3.6" height="26.0" fill="#cc0a33"/>
<line x1="489.5" y1="315" x2="489.5" y2="315" stroke="#1a1a1a" stroke-width="1.1"/>
<line x1="489.5" y1="331.4" x2="489.5" y2="333.5" stroke="#1a1a1a" stroke-width="1.1"/>
<rect x="488.05" y="315" width="2.9" height="16.4" fill="#fff" stroke="#161616" stroke-width="1.25"/>
<line x1="493.3" y1="312.2" x2="493.3" y2="332.8" stroke="#d21d45" stroke-width="1.1"/>
<rect x="491.5" y="314.3" width="3.6" height="11.0" fill="#cc0a33"/>
<line x1="496.4" y1="312.9" x2="496.4" y2="328" stroke="#d21d45" stroke-width="1.1"/>
<rect x="494.6" y="321.8" width="3.6" height="2.8" fill="#cc0a33"/>
<line x1="500.2" y1="318.4" x2="500.2" y2="337.6" stroke="#d21d45" stroke-width="1.1"/>
<rect x="498.4" y="326" width="3.6" height="6.1" fill="#cc0a33"/>
<line x1="503.6" y1="322.5" x2="503.6" y2="338.3" stroke="#d21d45" stroke-width="1.1"/>
<rect x="501.8" y="330" width="3.6" height="4.9" fill="#cc0a33"/>
<line x1="507.1" y1="297.8" x2="507.1" y2="304" stroke="#1a1a1a" stroke-width="1.1"/>
<line x1="507.1" y1="334.2" x2="507.1" y2="338.3" stroke="#1a1a1a" stroke-width="1.1"/>
<rect x="505.65" y="304" width="2.9" height="30.2" fill="#fff" stroke="#161616" stroke-width="1.25"/>
<line x1="510.7" y1="294.5" x2="510.7" y2="299.2" stroke="#1a1a1a" stroke-width="1.1"/>
<line x1="510.7" y1="305.4" x2="510.7" y2="307.4" stroke="#1a1a1a" stroke-width="1.1"/>
<rect x="509.25" y="299.2" width="2.9" height="6.2" fill="#fff" stroke="#161616" stroke-width="1.25"/>
<line x1="514.2" y1="286" x2="514.2" y2="288.2" stroke="#1a1a1a" stroke-width="1.1"/>
<line x1="514.2" y1="298.5" x2="514.2" y2="298.5" stroke="#1a1a1a" stroke-width="1.1"/>
<rect x="513.15" y="288.2" width="2.1" height="10.3" fill="#c4c4c4" stroke="#161616" stroke-width="1.25"/>
<line x1="517.2" y1="275" x2="517.2" y2="279.1" stroke="#1a1a1a" stroke-width="1.1"/>
<line x1="517.2" y1="290.9" x2="517.2" y2="291" stroke="#1a1a1a" stroke-width="1.1"/>
<rect x="516.15" y="279.1" width="2.1" height="11.8" fill="#c4c4c4" stroke="#161616" stroke-width="1.25"/>
<line x1="520.8" y1="273.6" x2="520.8" y2="279.1" stroke="#1a1a1a" stroke-width="1.1"/>
<line x1="520.8" y1="287.8" x2="520.8" y2="288.2" stroke="#1a1a1a" stroke-width="1.1"/>
<rect x="519.35" y="279.1" width="2.9" height="8.7" fill="#fff" stroke="#161616" stroke-width="1.25"/>
<line x1="524.4" y1="263.3" x2="524.4" y2="269.5" stroke="#1a1a1a" stroke-width="1.1"/>
<line x1="524.4" y1="279.1" x2="524.4" y2="292" stroke="#1a1a1a" stroke-width="1.1"/>
<rect x="522.95" y="269.5" width="2.9" height="9.6" fill="#fff" stroke="#161616" stroke-width="1.25"/>
<line x1="527.7" y1="240" x2="527.7" y2="245.5" stroke="#1a1a1a" stroke-width="1.1"/>
<line x1="527.7" y1="269.5" x2="527.7" y2="269.5" stroke="#1a1a1a" stroke-width="1.1"/>
<rect x="526.25" y="245.5" width="2.9" height="24.0" fill="#fff" stroke="#161616" stroke-width="1.25"/>
<line x1="531.3" y1="227" x2="531.3" y2="235.2" stroke="#1a1a1a" stroke-width="1.1"/>
<line x1="531.3" y1="246.5" x2="531.3" y2="254.4" stroke="#1a1a1a" stroke-width="1.1"/>
<rect x="529.85" y="235.2" width="2.9" height="11.3" fill="#fff" stroke="#161616" stroke-width="1.25"/>
<line x1="534.7" y1="235.2" x2="534.7" y2="259.9" stroke="#d21d45" stroke-width="1.1"/>
<rect x="532.9" y="235.2" width="3.6" height="24.7" fill="#cc0a33"/>
<line x1="538" y1="246" x2="538" y2="254.4" stroke="#1a1a1a" stroke-width="1.1"/>
<line x1="538" y1="257.8" x2="538" y2="263.3" stroke="#1a1a1a" stroke-width="1.1"/>
<rect x="536.55" y="254.4" width="2.9" height="3.4" fill="#fff" stroke="#161616" stroke-width="1.25"/>
<line x1="541.8" y1="241.4" x2="541.8" y2="241.7" stroke="#1a1a1a" stroke-width="1.1"/>
<line x1="541.8" y1="256.5" x2="541.8" y2="258.5" stroke="#1a1a1a" stroke-width="1.1"/>
<rect x="540.35" y="241.7" width="2.9" height="14.8" fill="#fff" stroke="#161616" stroke-width="1.25"/>
<line x1="545.3" y1="220.8" x2="545.3" y2="233.2" stroke="#1a1a1a" stroke-width="1.1"/>
<line x1="545.3" y1="242.1" x2="545.3" y2="245.8" stroke="#1a1a1a" stroke-width="1.1"/>
<rect x="543.85" y="233.2" width="2.9" height="8.9" fill="#fff" stroke="#161616" stroke-width="1.25"/>
<line x1="548.4" y1="223.6" x2="548.4" y2="227.7" stroke="#1a1a1a" stroke-width="1.1"/>
<line x1="548.4" y1="230.4" x2="548.4" y2="232.5" stroke="#1a1a1a" stroke-width="1.1"/>
<rect x="546.95" y="227.7" width="2.9" height="2.7" fill="#fff" stroke="#161616" stroke-width="1.25"/>
<line x1="551.8" y1="215.5" x2="551.8" y2="216" stroke="#1a1a1a" stroke-width="1.1"/>
<line x1="551.8" y1="228.4" x2="551.8" y2="231.1" stroke="#1a1a1a" stroke-width="1.1"/>
<rect x="550.35" y="216" width="2.9" height="12.4" fill="#fff" stroke="#161616" stroke-width="1.25"/>
<line x1="555.3" y1="201.6" x2="555.3" y2="206.4" stroke="#1a1a1a" stroke-width="1.1"/>
<line x1="555.3" y1="216" x2="555.3" y2="231.8" stroke="#1a1a1a" stroke-width="1.1"/>
<rect x="553.85" y="206.4" width="2.9" height="9.6" fill="#fff" stroke="#161616" stroke-width="1.25"/>
<line x1="558.7" y1="198.9" x2="558.7" y2="219.4" stroke="#d21d45" stroke-width="1.1"/>
<rect x="556.9" y="206.4" width="3.6" height="3.4" fill="#cc0a33"/>
<line x1="562.1" y1="208.5" x2="562.1" y2="238.6" stroke="#d21d45" stroke-width="1.1"/>
<rect x="560.3" y="208.5" width="3.6" height="27.4" fill="#cc0a33"/>
<line x1="565.8" y1="220.8" x2="565.8" y2="222.9" stroke="#1a1a1a" stroke-width="1.1"/>
<line x1="565.8" y1="235.2" x2="565.8" y2="242.1" stroke="#1a1a1a" stroke-width="1.1"/>
<rect x="564.75" y="222.9" width="2.1" height="12.3" fill="#c4c4c4" stroke="#161616" stroke-width="1.25"/>
<line x1="569.3" y1="203" x2="569.3" y2="237.3" stroke="#d21d45" stroke-width="1.1"/>
<rect x="567.5" y="221.5" width="3.6" height="6.2" fill="#cc0a33"/>
<line x1="572.8" y1="220.8" x2="572.8" y2="248" stroke="#d21d45" stroke-width="1.1"/>
<rect x="571.0" y="227" width="3.6" height="19.2" fill="#cc0a33"/>
<line x1="576.2" y1="237.3" x2="576.2" y2="251.7" stroke="#d21d45" stroke-width="1.1"/>
<rect x="574.4" y="244" width="3.6" height="3.5" fill="#cc0a33"/>
<line x1="579.7" y1="231.8" x2="579.7" y2="233.2" stroke="#1a1a1a" stroke-width="1.1"/>
<line x1="579.7" y1="246.9" x2="579.7" y2="254.4" stroke="#1a1a1a" stroke-width="1.1"/>
<rect x="578.25" y="233.2" width="2.9" height="13.7" fill="#fff" stroke="#161616" stroke-width="1.25"/>
<line x1="583.2" y1="233.8" x2="583.2" y2="290.3" stroke="#d21d45" stroke-width="1.1"/>
<rect x="581.4" y="233.8" width="3.6" height="51.4" fill="#cc0a33"/>
<line x1="586.6" y1="282.3" x2="586.6" y2="294.5" stroke="#d21d45" stroke-width="1.1"/>
<rect x="584.8" y="282.5" width="3.6" height="3.7" fill="#cc0a33"/>
<line x1="589.8" y1="280" x2="589.8" y2="282" stroke="#1a1a1a" stroke-width="1.1"/>
<line x1="589.8" y1="287.5" x2="589.8" y2="294.8" stroke="#1a1a1a" stroke-width="1.1"/>
<rect x="588.75" y="282" width="2.1" height="5.5" fill="#c4c4c4" stroke="#161616" stroke-width="1.25"/>
<line x1="594" y1="273.8" x2="594" y2="285" stroke="#d21d45" stroke-width="1.1"/>
<rect x="592.2" y="280.7" width="3.6" height="2.4" fill="#cc0a33"/>
<line x1="597.4" y1="278" x2="597.4" y2="322" stroke="#d21d45" stroke-width="1.1"/>
<rect x="595.6" y="282.5" width="3.6" height="15.6" fill="#cc0a33"/>
<line x1="600.6" y1="289.2" x2="600.6" y2="355" stroke="#d21d45" stroke-width="1.1"/>
<rect x="598.8" y="297.4" width="3.6" height="45.7" fill="#cc0a33"/>
<line x1="603.8" y1="336.3" x2="603.8" y2="354.1" stroke="#d21d45" stroke-width="1.1"/>
<rect x="602.0" y="339.7" width="3.6" height="11.0" fill="#cc0a33"/>
<line x1="607.3" y1="341.7" x2="607.3" y2="347.9" stroke="#1a1a1a" stroke-width="1.1"/>
<line x1="607.3" y1="354.1" x2="607.3" y2="371.9" stroke="#1a1a1a" stroke-width="1.1"/>
<rect x="605.85" y="347.9" width="2.9" height="6.2" fill="#fff" stroke="#161616" stroke-width="1.25"/>
<line x1="610.8" y1="335.6" x2="610.8" y2="340.4" stroke="#1a1a1a" stroke-width="1.1"/>
<line x1="610.8" y1="346.6" x2="610.8" y2="357.5" stroke="#1a1a1a" stroke-width="1.1"/>
<rect x="609.75" y="340.4" width="2.1" height="6.2" fill="#c4c4c4" stroke="#161616" stroke-width="1.25"/>
<line x1="613.9" y1="328" x2="613.9" y2="335.6" stroke="#1a1a1a" stroke-width="1.1"/>
<line x1="613.9" y1="341.1" x2="613.9" y2="353.8" stroke="#1a1a1a" stroke-width="1.1"/>
<rect x="612.45" y="335.6" width="2.9" height="5.5" fill="#fff" stroke="#161616" stroke-width="1.25"/>
<line x1="617.8" y1="311.8" x2="617.8" y2="325.2" stroke="#1a1a1a" stroke-width="1.1"/>
<line x1="617.8" y1="330.1" x2="617.8" y2="335.6" stroke="#1a1a1a" stroke-width="1.1"/>
<rect x="616.35" y="325.2" width="2.9" height="4.9" fill="#fff" stroke="#161616" stroke-width="1.25"/>
<line x1="621.5" y1="326.9" x2="621.5" y2="354.1" stroke="#d21d45" stroke-width="1.1"/>
<rect x="619.7" y="327.3" width="3.6" height="26.8" fill="#cc0a33"/>
<line x1="624.4" y1="332.1" x2="624.4" y2="350" stroke="#1a1a1a" stroke-width="1.1"/>
<line x1="624.4" y1="354.1" x2="624.4" y2="358.9" stroke="#1a1a1a" stroke-width="1.1"/>
<rect x="622.95" y="350" width="2.9" height="4.1" fill="#fff" stroke="#161616" stroke-width="1.25"/>
<line x1="628.3" y1="347" x2="628.3" y2="358" stroke="#d21d45" stroke-width="1.1"/>
<rect x="626.5" y="348.6" width="3.6" height="3.4" fill="#cc0a33"/>
<line x1="631.6" y1="350" x2="631.6" y2="376.7" stroke="#d21d45" stroke-width="1.1"/>
<rect x="629.8" y="351.4" width="3.6" height="16.8" fill="#cc0a33"/>
<line x1="634.7" y1="352.7" x2="634.7" y2="358.9" stroke="#1a1a1a" stroke-width="1.1"/>
<line x1="634.7" y1="367.1" x2="634.7" y2="375.4" stroke="#1a1a1a" stroke-width="1.1"/>
<rect x="633.25" y="358.9" width="2.9" height="8.2" fill="#fff" stroke="#161616" stroke-width="1.25"/>
<line x1="638.4" y1="348.6" x2="638.4" y2="385.7" stroke="#d21d45" stroke-width="1.1"/>
<rect x="636.6" y="353.8" width="3.6" height="25.7" fill="#cc0a33"/>
<line x1="642.1" y1="378" x2="642.1" y2="396" stroke="#d21d45" stroke-width="1.1"/>
<rect x="640.3" y="379.5" width="3.6" height="2.7" fill="#cc0a33"/>
<line x1="645.2" y1="370.6" x2="645.2" y2="371.6" stroke="#1a1a1a" stroke-width="1.1"/>
<line x1="645.2" y1="386.4" x2="645.2" y2="386.4" stroke="#1a1a1a" stroke-width="1.1"/>
<rect x="644.15" y="371.6" width="2.1" height="14.8" fill="#c4c4c4" stroke="#161616" stroke-width="1.25"/>
<line x1="649" y1="355.5" x2="649" y2="358.9" stroke="#1a1a1a" stroke-width="1.1"/>
<line x1="649" y1="371" x2="649" y2="373.5" stroke="#1a1a1a" stroke-width="1.1"/>
<rect x="647.55" y="358.9" width="2.9" height="12.1" fill="#fcf63c" stroke="#161616" stroke-width="1.25"/>
<line x1="143.8" y1="143.2" x2="698" y2="217.6" stroke="#646464" stroke-width="1.35"/>
<line x1="109" y1="322.5" x2="660" y2="398" stroke="#646464" stroke-width="1.35"/>
<polygon points="186.1,362.1 429.2,362.1 429.2,384.5 638.0,391.8 429.2,390.8 429.2,413.9 186.1,413.9" fill="#a4a4a4" stroke="#a4a4a4" stroke-width="1"/>
<polygon points="184.6,360.6 427.7,360.6 427.7,383.0 636.5,390.3 427.7,389.3 427.7,412.4 184.6,412.4" fill="#fff" stroke="#6e6e6e" stroke-width="1"/>
<rect x="443.4" y="112.5" width="240.2" height="28.2" fill="#a2a2a2"/>
<rect x="441.6" y="110.7" width="240.2" height="28.2" fill="#fff" stroke="#999" stroke-width="1"/>
<line x1="493.5" y1="110.7" x2="493.5" y2="138.9" stroke="#999" stroke-width="1"/>
<line x1="19.7" y1="149.5" x2="28.7" y2="149.5" stroke="#1c1c84" stroke-width="1.6"/>
<line x1="19.7" y1="160.7" x2="28.7" y2="160.7" stroke="#c8102e" stroke-width="1.6"/>
<g fill="#3c3c3c"><rect x="19.7" y="170.9" width="1.7" height="4.6"/><rect x="22.1" y="169.2" width="1.8" height="6.3"/><rect x="24.3" y="168" width="2" height="7.5"/><rect x="27" y="170" width="1.8" height="5.5"/></g>
<g stroke="#000" stroke-width="1.1"><line x1="21.3" y1="134.2" x2="21.3" y2="142"/><rect x="20.4" y="135.6" width="1.8" height="4.8" fill="#fff"/><rect x="23.4" y="137.6" width="2.4" height="4.2" fill="#000"/><line x1="27.95" y1="134.2" x2="27.95" y2="142.4"/><rect x="27" y="135.3" width="1.9" height="6.1" fill="#fff"/></g>
<path d="M20.1 40.4 L24.4 32.2 L26.5 36.8 L28.4 33.8 L28.6 40.4 Z" fill="#86a886" stroke="none"/>
<path d="M20.1 40.4 L24.4 32.2 L26.5 36.8 L28.4 33.8 L28.6 40.4" fill="none" stroke="#0c0c0c" stroke-width="1.35" stroke-linejoin="round" stroke-linecap="round"/>
<path d="M682 25.8 L685.8 21.8 L689.6 25.8 Z" fill="#2f7a2f"/>
</svg>
<svg width="729" height="438" viewBox="0 0 729 438">
<text x="17.2" y="13.9" font-size="14.5" fill="#000" font-weight="bold" text-anchor="start" textLength="33.6" lengthAdjust="spacingAndGlyphs">$USD</text>
<text x="55.6" y="13.3" font-size="11.4" fill="#000" font-weight="normal" text-anchor="start" textLength="112.5" lengthAdjust="spacingAndGlyphs">US Dollar - Cash Settle</text>
<text x="173" y="13.2" font-size="9" fill="#000" font-weight="normal" text-anchor="start" textLength="37.4" lengthAdjust="spacingAndGlyphs">FOREX</text>
<text x="17.2" y="26.9" font-size="10.9" fill="#000" font-weight="normal" text-anchor="start" textLength="97.6" lengthAdjust="spacingAndGlyphs">17-Jul-2025 2:37pm</text>
<text x="596.2" y="13.6" font-size="11" fill="#666" font-weight="normal" text-anchor="start" textLength="93.5" lengthAdjust="spacingAndGlyphs">©StockCharts.com</text>
<text x="322.6" y="26.6" font-size="11.5" fill="#000" font-weight="bold" text-anchor="start" >Open</text>
<text x="355.7" y="26.6" font-size="11" fill="#000" font-weight="normal" text-anchor="start" >97.96</text>
<text x="390.4" y="26.6" font-size="11.5" fill="#000" font-weight="bold" text-anchor="start" >High</text>
<text x="418.0" y="26.6" font-size="11" fill="#000" font-weight="normal" text-anchor="start" >98.95</text>
<text x="453.1" y="26.6" font-size="11.5" fill="#000" font-weight="bold" text-anchor="start" >Low</text>
<text x="480.7" y="26.6" font-size="11" fill="#000" font-weight="normal" text-anchor="start" >97.71</text>
<text x="514.6" y="26.6" font-size="11.5" fill="#000" font-weight="bold" text-anchor="start" >Last</text>
<text x="543.4" y="26.6" font-size="11" fill="#000" font-weight="normal" text-anchor="start" >98.70</text>
<text x="577.4" y="26.6" font-size="11.5" fill="#000" font-weight="bold" text-anchor="start" >Chg</text>
<text x="603.7" y="26.6" font-size="11" fill="#000" font-weight="normal" text-anchor="start" >+0.85</text>
<text x="635" y="26.6" font-size="11" fill="#000" font-weight="normal" text-anchor="start" textLength="44.2" lengthAdjust="spacingAndGlyphs">(+0.87%)</text>
<text x="32.9" y="40.6" font-size="10.3" fill="#111" font-weight="normal" text-anchor="start" textLength="82" lengthAdjust="spacing" stroke="#111" stroke-width="0.25">RSI(14) 38.78</text>
<text x="33.2" y="142.4" font-size="10.3" fill="#111" font-weight="normal" text-anchor="start" textLength="124" lengthAdjust="spacing" stroke="#111" stroke-width="0.25">$USD (Weekly) 98.70</text>
<text x="30.7" y="153.8" font-size="10" fill="#1a1a8a" font-weight="normal" text-anchor="start" stroke="#1a1a8a" stroke-width="0.3">MA(50) 103.19</text>
<text x="30.7" y="165" font-size="10" fill="#c8102e" font-weight="normal" text-anchor="start" stroke="#c8102e" stroke-width="0.3">MA(200) 103.05</text>
<text x="30.5" y="175.3" font-size="10" fill="#444" font-weight="normal" text-anchor="start" textLength="65" lengthAdjust="spacingAndGlyphs" stroke="#444" stroke-width="0.25">Volume undef</text>
<text x="693.2" y="49.48" font-size="10" fill="#111" font-weight="normal" text-anchor="start" textLength="12" lengthAdjust="spacingAndGlyphs" stroke="#111" stroke-width="0.25">90</text>
<text x="693.2" y="66.64" font-size="10" fill="#111" font-weight="normal" text-anchor="start" textLength="12" lengthAdjust="spacingAndGlyphs" stroke="#111" stroke-width="0.25">70</text>
<text x="693.2" y="83.8" font-size="10" fill="#111" font-weight="normal" text-anchor="start" textLength="12" lengthAdjust="spacingAndGlyphs" stroke="#111" stroke-width="0.25">50</text>
<text x="693.2" y="100.96" font-size="10" fill="#111" font-weight="normal" text-anchor="start" textLength="12" lengthAdjust="spacingAndGlyphs" stroke="#111" stroke-width="0.25">30</text>
<text x="693.2" y="118.11999999999999" font-size="10" fill="#111" font-weight="normal" text-anchor="start" textLength="12" lengthAdjust="spacingAndGlyphs" stroke="#111" stroke-width="0.25">10</text>
<text x="700.0" y="402.5" font-size="10" fill="#111" font-weight="normal" text-anchor="start" textLength="12.3" lengthAdjust="spacingAndGlyphs" stroke="#111" stroke-width="0.25">96</text>
<text x="700.0" y="372.49275133385885" font-size="10" fill="#111" font-weight="normal" text-anchor="start" textLength="12.3" lengthAdjust="spacingAndGlyphs" stroke="#111" stroke-width="0.25">98</text>
<text x="693.8499999999999" y="343.0917513746726" font-size="10" fill="#111" font-weight="normal" text-anchor="start" textLength="18.5" lengthAdjust="spacingAndGlyphs" stroke="#111" stroke-width="0.25">100</text>
<text x="693.8499999999999" y="314.2729878705424" font-size="10" fill="#111" font-weight="normal" text-anchor="start" textLength="18.5" lengthAdjust="spacingAndGlyphs" stroke="#111" stroke-width="0.25">102</text>
<text x="693.8499999999999" y="286.0138475227025" font-size="10" fill="#111" font-weight="normal" text-anchor="start" textLength="18.5" lengthAdjust="spacingAndGlyphs" stroke="#111" stroke-width="0.25">104</text>
<text x="693.8499999999999" y="258.2930093818507" font-size="10" fill="#111" font-weight="normal" text-anchor="start" textLength="18.5" lengthAdjust="spacingAndGlyphs" stroke="#111" stroke-width="0.25">106</text>
<text x="693.8499999999999" y="231.09034820926516" font-size="10" fill="#111" font-weight="normal" text-anchor="start" textLength="18.5" lengthAdjust="spacingAndGlyphs" stroke="#111" stroke-width="0.25">108</text>
<text x="693.8499999999999" y="204.38684670543887" font-size="10" fill="#111" font-weight="normal" text-anchor="start" textLength="18.5" lengthAdjust="spacingAndGlyphs" stroke="#111" stroke-width="0.25">110</text>
<text x="693.8499999999999" y="178.1645156473909" font-size="10" fill="#111" font-weight="normal" text-anchor="start" textLength="18.5" lengthAdjust="spacingAndGlyphs" stroke="#111" stroke-width="0.25">112</text>
<text x="693.8499999999999" y="152.40632109463283" font-size="10" fill="#111" font-weight="normal" text-anchor="start" textLength="18.5" lengthAdjust="spacingAndGlyphs" stroke="#111" stroke-width="0.25">114</text>
<text x="29.2" y="432.0" font-size="9.3" fill="#1a1a1a" font-weight="normal" text-anchor="middle" stroke="#1a1a1a" stroke-width="0.45">F</text>
<text x="44.4" y="432.0" font-size="9.3" fill="#1a1a1a" font-weight="normal" text-anchor="middle" stroke="#1a1a1a" stroke-width="0.45">M</text>
<text x="58" y="432.0" font-size="9.3" fill="#1a1a1a" font-weight="normal" text-anchor="middle" stroke="#1a1a1a" stroke-width="0.45">A</text>
<text x="71.4" y="432.0" font-size="9.3" fill="#1a1a1a" font-weight="normal" text-anchor="middle" stroke="#1a1a1a" stroke-width="0.45">M</text>
<text x="88.2" y="432.0" font-size="9.3" fill="#1a1a1a" font-weight="normal" text-anchor="middle" stroke="#1a1a1a" stroke-width="0.45">J</text>
<text x="101.6" y="432.0" font-size="9.3" fill="#1a1a1a" font-weight="normal" text-anchor="middle" stroke="#1a1a1a" stroke-width="0.45">J</text>
<text x="116" y="432.0" font-size="9.3" fill="#1a1a1a" font-weight="normal" text-anchor="middle" stroke="#1a1a1a" stroke-width="0.45">A</text>
<text x="134" y="432.0" font-size="9.3" fill="#1a1a1a" font-weight="normal" text-anchor="middle" stroke="#1a1a1a" stroke-width="0.45">S</text>
<text x="147" y="432.0" font-size="9.3" fill="#1a1a1a" font-weight="normal" text-anchor="middle" stroke="#1a1a1a" stroke-width="0.45">O</text>
<text x="164.8" y="432.0" font-size="9.3" fill="#1a1a1a" font-weight="normal" text-anchor="middle" stroke="#1a1a1a" stroke-width="0.45">N</text>
<text x="178.5" y="432.0" font-size="9.3" fill="#1a1a1a" font-weight="normal" text-anchor="middle" stroke="#1a1a1a" stroke-width="0.45">D</text>
<text x="190.6" y="432.3" font-size="11" fill="#0a0a0a" font-weight="bold" text-anchor="middle" stroke="#0a0a0a" stroke-width="0.5">23</text>
<text x="208.2" y="432.0" font-size="9.3" fill="#1a1a1a" font-weight="normal" text-anchor="middle" stroke="#1a1a1a" stroke-width="0.45">F</text>
<text x="224.2" y="432.0" font-size="9.3" fill="#1a1a1a" font-weight="normal" text-anchor="middle" stroke="#1a1a1a" stroke-width="0.45">M</text>
<text x="237.8" y="432.0" font-size="9.3" fill="#1a1a1a" font-weight="normal" text-anchor="middle" stroke="#1a1a1a" stroke-width="0.45">A</text>
<text x="251" y="432.0" font-size="9.3" fill="#1a1a1a" font-weight="normal" text-anchor="middle" stroke="#1a1a1a" stroke-width="0.45">M</text>
<text x="268.6" y="432.0" font-size="9.3" fill="#1a1a1a" font-weight="normal" text-anchor="middle" stroke="#1a1a1a" stroke-width="0.45">J</text>
<text x="282" y="432.0" font-size="9.3" fill="#1a1a1a" font-weight="normal" text-anchor="middle" stroke="#1a1a1a" stroke-width="0.45">J</text>
<text x="300" y="432.0" font-size="9.3" fill="#1a1a1a" font-weight="normal" text-anchor="middle" stroke="#1a1a1a" stroke-width="0.45">A</text>
<text x="314" y="432.0" font-size="9.3" fill="#1a1a1a" font-weight="normal" text-anchor="middle" stroke="#1a1a1a" stroke-width="0.45">S</text>
<text x="326.3" y="432.0" font-size="9.3" fill="#1a1a1a" font-weight="normal" text-anchor="middle" stroke="#1a1a1a" stroke-width="0.45">O</text>
<text x="345.3" y="432.0" font-size="9.3" fill="#1a1a1a" font-weight="normal" text-anchor="middle" stroke="#1a1a1a" stroke-width="0.45">N</text>
<text x="358.8" y="432.0" font-size="9.3" fill="#1a1a1a" font-weight="normal" text-anchor="middle" stroke="#1a1a1a" stroke-width="0.45">D</text>
<text x="371" y="432.3" font-size="11" fill="#0a0a0a" font-weight="bold" text-anchor="middle" stroke="#0a0a0a" stroke-width="0.5">24</text>
<text x="389" y="432.0" font-size="9.3" fill="#1a1a1a" font-weight="normal" text-anchor="middle" stroke="#1a1a1a" stroke-width="0.45">F</text>
<text x="404.6" y="432.0" font-size="9.3" fill="#1a1a1a" font-weight="normal" text-anchor="middle" stroke="#1a1a1a" stroke-width="0.45">M</text>
<text x="417.5" y="432.0" font-size="9.3" fill="#1a1a1a" font-weight="normal" text-anchor="middle" stroke="#1a1a1a" stroke-width="0.45">A</text>
<text x="434.6" y="432.0" font-size="9.3" fill="#1a1a1a" font-weight="normal" text-anchor="middle" stroke="#1a1a1a" stroke-width="0.45">M</text>
<text x="449.3" y="432.0" font-size="9.3" fill="#1a1a1a" font-weight="normal" text-anchor="middle" stroke="#1a1a1a" stroke-width="0.45">J</text>
<text x="463" y="432.0" font-size="9.3" fill="#1a1a1a" font-weight="normal" text-anchor="middle" stroke="#1a1a1a" stroke-width="0.45">J</text>
<text x="480.3" y="432.0" font-size="9.3" fill="#1a1a1a" font-weight="normal" text-anchor="middle" stroke="#1a1a1a" stroke-width="0.45">A</text>
<text x="493.5" y="432.0" font-size="9.3" fill="#1a1a1a" font-weight="normal" text-anchor="middle" stroke="#1a1a1a" stroke-width="0.45">S</text>
<text x="511" y="432.0" font-size="9.3" fill="#1a1a1a" font-weight="normal" text-anchor="middle" stroke="#1a1a1a" stroke-width="0.45">O</text>
<text x="526" y="432.0" font-size="9.3" fill="#1a1a1a" font-weight="normal" text-anchor="middle" stroke="#1a1a1a" stroke-width="0.45">N</text>
<text x="539" y="432.0" font-size="9.3" fill="#1a1a1a" font-weight="normal" text-anchor="middle" stroke="#1a1a1a" stroke-width="0.45">D</text>
<text x="554.2" y="432.3" font-size="11" fill="#0a0a0a" font-weight="bold" text-anchor="middle" stroke="#0a0a0a" stroke-width="0.5">25</text>
<text x="569.3" y="432.0" font-size="9.3" fill="#1a1a1a" font-weight="normal" text-anchor="middle" stroke="#1a1a1a" stroke-width="0.45">F</text>
<text x="584.6" y="432.0" font-size="9.3" fill="#1a1a1a" font-weight="normal" text-anchor="middle" stroke="#1a1a1a" stroke-width="0.45">M</text>
<text x="601.3" y="432.0" font-size="9.3" fill="#1a1a1a" font-weight="normal" text-anchor="middle" stroke="#1a1a1a" stroke-width="0.45">A</text>
<text x="615" y="432.0" font-size="9.3" fill="#1a1a1a" font-weight="normal" text-anchor="middle" stroke="#1a1a1a" stroke-width="0.45">M</text>
<text x="629" y="432.0" font-size="9.3" fill="#1a1a1a" font-weight="normal" text-anchor="middle" stroke="#1a1a1a" stroke-width="0.45">J</text>
<text x="645.9" y="432.0" font-size="9.3" fill="#1a1a1a" font-weight="normal" text-anchor="middle" stroke="#1a1a1a" stroke-width="0.45">J</text>
<text x="661.3" y="432.0" font-size="9.3" fill="#1a1a1a" font-weight="normal" text-anchor="middle" stroke="#1a1a1a" stroke-width="0.45">A</text>
<text x="674.2" y="432.0" font-size="9.3" fill="#1a1a1a" font-weight="normal" text-anchor="middle" stroke="#1a1a1a" stroke-width="0.45">S</text>
<text x="444.8" y="131.6" font-size="19.5" fill="#f0931e" font-weight="bold" text-anchor="start" textLength="43.7" lengthAdjust="spacingAndGlyphs">Gold</text>
<text x="496.3" y="131.6" font-size="19.5" fill="#000" font-weight="bold" text-anchor="start" textLength="181.4" lengthAdjust="spacingAndGlyphs">PriceForecast.com</text>
<text x="188.5" y="380.9" font-size="20" fill="#000" font-weight="bold" text-anchor="start" textLength="211.5" lengthAdjust="spacingAndGlyphs">The HUGE flag pattern</text>
<text x="188.2" y="403.5" font-size="20" fill="#000" font-weight="bold" text-anchor="start" textLength="230" lengthAdjust="spacingAndGlyphs">appears to be complete.</text>
</svg>
</body></html>
